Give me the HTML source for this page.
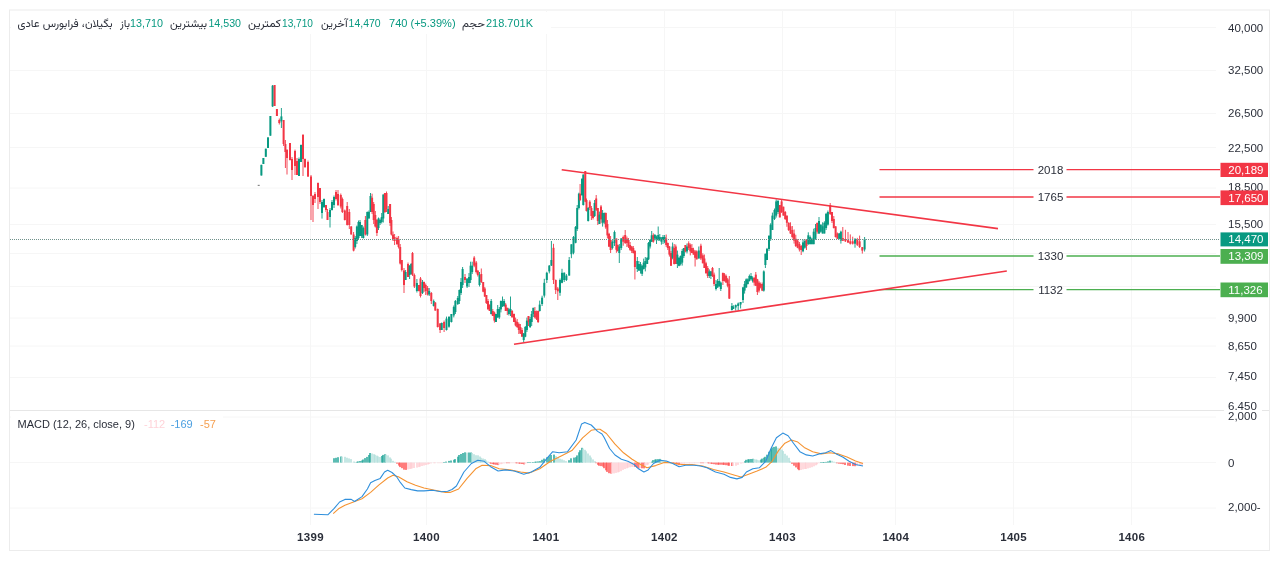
<!DOCTYPE html>
<html><head><meta charset="utf-8"><style>
html,body{margin:0;padding:0;background:#fff;width:1280px;height:561px;overflow:hidden}
svg{display:block;font-family:"Liberation Sans", "Vazirmatn", "DejaVu Sans", sans-serif}
</style></head><body>
<svg width="1280" height="561" viewBox="0 0 1280 561">
<rect x="0" y="0" width="1280" height="561" fill="#fff"/>
<rect x="9.5" y="10" width="1260" height="540.5" fill="none" stroke="#ececec"/>
<line x1="10" y1="27.5" x2="1216" y2="27.5" stroke="#f6f6f6" stroke-width="1" />
<line x1="10" y1="70.5" x2="1216" y2="70.5" stroke="#f6f6f6" stroke-width="1" />
<line x1="10" y1="113.5" x2="1216" y2="113.5" stroke="#f6f6f6" stroke-width="1" />
<line x1="10" y1="147.5" x2="1216" y2="147.5" stroke="#f6f6f6" stroke-width="1" />
<line x1="10" y1="188" x2="1216" y2="188" stroke="#f6f6f6" stroke-width="1" />
<line x1="10" y1="224.5" x2="1216" y2="224.5" stroke="#f6f6f6" stroke-width="1" />
<line x1="10" y1="253.5" x2="1216" y2="253.5" stroke="#f6f6f6" stroke-width="1" />
<line x1="10" y1="286.5" x2="1216" y2="286.5" stroke="#f6f6f6" stroke-width="1" />
<line x1="10" y1="318" x2="1216" y2="318" stroke="#f6f6f6" stroke-width="1" />
<line x1="10" y1="346" x2="1216" y2="346" stroke="#f6f6f6" stroke-width="1" />
<line x1="10" y1="377.5" x2="1216" y2="377.5" stroke="#f6f6f6" stroke-width="1" />
<line x1="10" y1="417" x2="1216" y2="417" stroke="#f6f6f6" stroke-width="1" />
<line x1="10" y1="462.6" x2="1216" y2="462.6" stroke="#f6f6f6" stroke-width="1" />
<line x1="10" y1="508" x2="1216" y2="508" stroke="#f6f6f6" stroke-width="1" />
<line x1="310.5" y1="10" x2="310.5" y2="525" stroke="#f6f6f6" stroke-width="1" />
<line x1="426.5" y1="10" x2="426.5" y2="525" stroke="#f6f6f6" stroke-width="1" />
<line x1="546.5" y1="10" x2="546.5" y2="525" stroke="#f6f6f6" stroke-width="1" />
<line x1="664.5" y1="10" x2="664.5" y2="525" stroke="#f6f6f6" stroke-width="1" />
<line x1="782.5" y1="10" x2="782.5" y2="525" stroke="#f6f6f6" stroke-width="1" />
<line x1="895.5" y1="10" x2="895.5" y2="525" stroke="#f6f6f6" stroke-width="1" />
<line x1="1013.5" y1="10" x2="1013.5" y2="525" stroke="#f6f6f6" stroke-width="1" />
<line x1="1131.5" y1="10" x2="1131.5" y2="525" stroke="#f6f6f6" stroke-width="1" />
<line x1="10" y1="410.5" x2="1269" y2="410.5" stroke="#e6e6e6" stroke-width="1" />
<rect x="257.7" y="184.8" width="2" height="1.2" fill="#888"/>
<line x1="261.40" y1="164.8" x2="261.40" y2="175.5" stroke="#089981" stroke-width="0.9"/>
<rect x="260.40" y="164.8" width="2.0" height="10.7" fill="#089981"/>
<line x1="263.40" y1="158.0" x2="263.40" y2="164.0" stroke="#089981" stroke-width="0.9"/>
<rect x="262.40" y="158.0" width="2.0" height="6.0" fill="#089981"/>
<line x1="265.80" y1="148.7" x2="265.80" y2="156.8" stroke="#089981" stroke-width="0.9"/>
<rect x="264.80" y="148.7" width="2.0" height="8.1" fill="#089981"/>
<line x1="268.00" y1="137.4" x2="268.00" y2="148.0" stroke="#089981" stroke-width="0.9"/>
<rect x="267.00" y="137.4" width="2.0" height="10.6" fill="#089981"/>
<line x1="270.40" y1="116.0" x2="270.40" y2="135.7" stroke="#089981" stroke-width="0.9"/>
<rect x="269.40" y="116.0" width="2.0" height="19.7" fill="#089981"/>
<line x1="272.60" y1="85.0" x2="272.60" y2="107.0" stroke="#089981" stroke-width="0.9"/>
<rect x="271.60" y="85.7" width="2.0" height="20.7" fill="#089981"/>
<line x1="274.60" y1="85.0" x2="274.60" y2="106.0" stroke="#f23645" stroke-width="0.9"/>
<rect x="273.60" y="85.0" width="2.0" height="21.0" fill="#f23645"/>
<line x1="276.90" y1="109.0" x2="276.90" y2="116.0" stroke="#f23645" stroke-width="0.9"/>
<rect x="275.90" y="109.0" width="2.0" height="7.0" fill="#f23645"/>
<line x1="279.30" y1="118.5" x2="279.30" y2="124.5" stroke="#f23645" stroke-width="0.9"/>
<rect x="278.30" y="120.0" width="2.0" height="3.0" fill="#f23645"/>
<line x1="281.40" y1="108.0" x2="281.40" y2="128.0" stroke="#089981" stroke-width="0.9"/>
<rect x="280.40" y="116.4" width="2.0" height="5.0" fill="#089981"/>
<line x1="283.60" y1="120.0" x2="283.60" y2="146.0" stroke="#f23645" stroke-width="0.9"/>
<rect x="282.60" y="120.0" width="2.0" height="24.0" fill="#f23645"/>
<line x1="285.40" y1="140.0" x2="285.40" y2="168.0" stroke="#f23645" stroke-width="0.9"/>
<rect x="284.40" y="144.0" width="2.0" height="8.0" fill="#f23645"/>
<line x1="287.00" y1="149.0" x2="287.00" y2="174.5" stroke="#f23645" stroke-width="0.9"/>
<rect x="286.00" y="150.0" width="2.0" height="8.0" fill="#f23645"/>
<line x1="290.00" y1="143.0" x2="290.00" y2="160.5" stroke="#f23645" stroke-width="0.9"/>
<rect x="289.00" y="143.0" width="2.0" height="17.0" fill="#f23645"/>
<line x1="292.00" y1="157.0" x2="292.00" y2="180.0" stroke="#f23645" stroke-width="0.9"/>
<rect x="291.00" y="159.0" width="2.0" height="11.0" fill="#f23645"/>
<line x1="295.00" y1="149.6" x2="295.00" y2="175.0" stroke="#f23645" stroke-width="0.9"/>
<rect x="294.00" y="151.0" width="2.0" height="15.0" fill="#f23645"/>
<line x1="297.00" y1="158.0" x2="297.00" y2="175.0" stroke="#f23645" stroke-width="0.9"/>
<rect x="296.00" y="161.0" width="2.0" height="14.0" fill="#f23645"/>
<line x1="299.00" y1="157.5" x2="299.00" y2="176.0" stroke="#089981" stroke-width="0.9"/>
<rect x="298.00" y="159.0" width="2.0" height="17.0" fill="#089981"/>
<line x1="301.00" y1="144.5" x2="301.00" y2="162.0" stroke="#089981" stroke-width="0.9"/>
<rect x="300.00" y="145.0" width="2.0" height="17.0" fill="#089981"/>
<line x1="303.00" y1="134.0" x2="303.00" y2="176.0" stroke="#f23645" stroke-width="0.9"/>
<rect x="302.00" y="135.0" width="2.0" height="24.0" fill="#f23645"/>
<line x1="305.00" y1="158.5" x2="305.00" y2="168.0" stroke="#f23645" stroke-width="0.9"/>
<rect x="304.00" y="159.0" width="2.0" height="8.0" fill="#f23645"/>
<line x1="308.00" y1="160.5" x2="308.00" y2="177.0" stroke="#f23645" stroke-width="0.9"/>
<rect x="307.00" y="162.0" width="2.0" height="14.5" fill="#f23645"/>
<line x1="311.00" y1="175.0" x2="311.00" y2="220.0" stroke="#f23645" stroke-width="0.9"/>
<rect x="310.00" y="176.5" width="2.0" height="19.5" fill="#f23645"/>
<line x1="313.00" y1="195.0" x2="313.00" y2="222.0" stroke="#f23645" stroke-width="0.9"/>
<rect x="312.00" y="196.0" width="2.0" height="9.0" fill="#f23645"/>
<line x1="315.00" y1="192.0" x2="315.00" y2="203.0" stroke="#f23645" stroke-width="0.9"/>
<rect x="314.00" y="194.0" width="2.0" height="5.0" fill="#f23645"/>
<line x1="318.00" y1="182.5" x2="318.00" y2="209.0" stroke="#f23645" stroke-width="0.9"/>
<rect x="317.00" y="183.0" width="2.0" height="14.0" fill="#f23645"/>
<line x1="320.00" y1="188.0" x2="320.00" y2="204.0" stroke="#f23645" stroke-width="0.9"/>
<rect x="319.00" y="188.0" width="2.0" height="14.0" fill="#f23645"/>
<line x1="322.00" y1="200.0" x2="322.00" y2="218.6" stroke="#089981" stroke-width="0.9"/>
<rect x="321.00" y="202.0" width="2.0" height="11.0" fill="#089981"/>
<line x1="324.00" y1="198.5" x2="324.00" y2="208.0" stroke="#089981" stroke-width="0.9"/>
<rect x="323.00" y="199.0" width="2.0" height="8.0" fill="#089981"/>
<line x1="326.00" y1="205.0" x2="326.00" y2="212.0" stroke="#f23645" stroke-width="0.9"/>
<rect x="325.00" y="205.0" width="2.0" height="5.0" fill="#f23645"/>
<line x1="327.50" y1="209.0" x2="327.50" y2="220.0" stroke="#f23645" stroke-width="0.9"/>
<rect x="326.50" y="212.0" width="2.0" height="8.0" fill="#f23645"/>
<line x1="330.00" y1="208.0" x2="330.00" y2="227.5" stroke="#089981" stroke-width="0.9"/>
<rect x="329.00" y="210.0" width="2.0" height="7.0" fill="#089981"/>
<line x1="332.00" y1="200.0" x2="332.00" y2="210.5" stroke="#089981" stroke-width="0.9"/>
<rect x="331.00" y="202.0" width="2.0" height="8.0" fill="#089981"/>
<line x1="334.00" y1="195.5" x2="334.00" y2="208.0" stroke="#089981" stroke-width="0.9"/>
<rect x="333.00" y="197.0" width="2.0" height="8.0" fill="#089981"/>
<line x1="336.00" y1="190.0" x2="336.00" y2="200.5" stroke="#f23645" stroke-width="0.9"/>
<rect x="335.00" y="192.0" width="2.0" height="7.0" fill="#f23645"/>
<line x1="338.00" y1="190.0" x2="338.00" y2="206.0" stroke="#f23645" stroke-width="0.9"/>
<rect x="337.00" y="194.0" width="2.0" height="11.0" fill="#f23645"/>
<line x1="340.80" y1="193.5" x2="340.80" y2="208.5" stroke="#f23645" stroke-width="0.9"/>
<rect x="339.80" y="195.0" width="2.0" height="11.5" fill="#f23645"/>
<line x1="342.40" y1="197.5" x2="342.40" y2="213.0" stroke="#f23645" stroke-width="0.9"/>
<rect x="341.40" y="199.0" width="2.0" height="13.0" fill="#f23645"/>
<line x1="344.80" y1="209.5" x2="344.80" y2="220.5" stroke="#f23645" stroke-width="0.9"/>
<rect x="343.80" y="210.5" width="2.0" height="9.5" fill="#f23645"/>
<line x1="347.20" y1="202.0" x2="347.20" y2="225.5" stroke="#f23645" stroke-width="0.9"/>
<rect x="346.20" y="206.0" width="2.0" height="19.0" fill="#f23645"/>
<line x1="349.30" y1="209.0" x2="349.30" y2="229.0" stroke="#f23645" stroke-width="0.9"/>
<rect x="348.30" y="212.0" width="2.0" height="13.0" fill="#f23645"/>
<line x1="351.20" y1="226.0" x2="351.20" y2="234.5" stroke="#f23645" stroke-width="0.9"/>
<rect x="350.20" y="226.5" width="2.0" height="8.0" fill="#f23645"/>
<line x1="353.60" y1="232.0" x2="353.60" y2="251.4" stroke="#f23645" stroke-width="0.9"/>
<rect x="352.60" y="234.5" width="2.0" height="16.1" fill="#f23645"/>
<line x1="355.20" y1="236.0" x2="355.20" y2="248.5" stroke="#089981" stroke-width="0.9"/>
<rect x="354.20" y="238.0" width="2.0" height="9.0" fill="#089981"/>
<line x1="356.90" y1="225.5" x2="356.90" y2="244.0" stroke="#089981" stroke-width="0.9"/>
<rect x="355.90" y="226.5" width="2.0" height="14.5" fill="#089981"/>
<line x1="358.50" y1="220.5" x2="358.50" y2="239.0" stroke="#089981" stroke-width="0.9"/>
<rect x="357.50" y="222.0" width="2.0" height="16.0" fill="#089981"/>
<line x1="360.00" y1="220.0" x2="360.00" y2="236.0" stroke="#089981" stroke-width="0.9"/>
<rect x="359.00" y="222.0" width="2.0" height="14.0" fill="#089981"/>
<line x1="361.70" y1="225.0" x2="361.70" y2="238.0" stroke="#089981" stroke-width="0.9"/>
<rect x="360.70" y="225.0" width="2.0" height="11.0" fill="#089981"/>
<line x1="363.30" y1="226.5" x2="363.30" y2="238.5" stroke="#089981" stroke-width="0.9"/>
<rect x="362.30" y="228.0" width="2.0" height="10.0" fill="#089981"/>
<line x1="365.40" y1="216.0" x2="365.40" y2="235.5" stroke="#f23645" stroke-width="0.9"/>
<rect x="364.40" y="220.0" width="2.0" height="14.5" fill="#f23645"/>
<line x1="367.30" y1="211.5" x2="367.30" y2="236.0" stroke="#089981" stroke-width="0.9"/>
<rect x="366.30" y="212.0" width="2.0" height="22.5" fill="#089981"/>
<line x1="368.90" y1="210.5" x2="368.90" y2="218.5" stroke="#089981" stroke-width="0.9"/>
<rect x="367.90" y="212.0" width="2.0" height="6.5" fill="#089981"/>
<line x1="370.50" y1="193.0" x2="370.50" y2="212.0" stroke="#089981" stroke-width="0.9"/>
<rect x="369.50" y="196.0" width="2.0" height="16.0" fill="#089981"/>
<line x1="372.10" y1="193.7" x2="372.10" y2="214.0" stroke="#f23645" stroke-width="0.9"/>
<rect x="371.10" y="197.7" width="2.0" height="14.3" fill="#f23645"/>
<line x1="373.70" y1="202.0" x2="373.70" y2="224.0" stroke="#f23645" stroke-width="0.9"/>
<rect x="372.70" y="204.0" width="2.0" height="16.0" fill="#f23645"/>
<line x1="375.30" y1="211.0" x2="375.30" y2="227.5" stroke="#f23645" stroke-width="0.9"/>
<rect x="374.30" y="215.0" width="2.0" height="11.5" fill="#f23645"/>
<line x1="376.90" y1="219.0" x2="376.90" y2="236.0" stroke="#f23645" stroke-width="0.9"/>
<rect x="375.90" y="220.0" width="2.0" height="13.0" fill="#f23645"/>
<line x1="378.50" y1="217.5" x2="378.50" y2="230.0" stroke="#089981" stroke-width="0.9"/>
<rect x="377.50" y="218.5" width="2.0" height="9.5" fill="#089981"/>
<line x1="380.10" y1="218.5" x2="380.10" y2="225.0" stroke="#089981" stroke-width="0.9"/>
<rect x="379.10" y="220.0" width="2.0" height="3.0" fill="#089981"/>
<line x1="381.70" y1="213.0" x2="381.70" y2="223.5" stroke="#089981" stroke-width="0.9"/>
<rect x="380.70" y="217.0" width="2.0" height="5.0" fill="#089981"/>
<line x1="383.30" y1="194.5" x2="383.30" y2="222.5" stroke="#089981" stroke-width="0.9"/>
<rect x="382.30" y="194.5" width="2.0" height="24.0" fill="#089981"/>
<line x1="384.90" y1="193.0" x2="384.90" y2="213.0" stroke="#f23645" stroke-width="0.9"/>
<rect x="383.90" y="193.0" width="2.0" height="19.0" fill="#f23645"/>
<line x1="386.50" y1="191.5" x2="386.50" y2="212.0" stroke="#f23645" stroke-width="0.9"/>
<rect x="385.50" y="193.0" width="2.0" height="16.0" fill="#f23645"/>
<line x1="388.20" y1="206.0" x2="388.20" y2="214.0" stroke="#089981" stroke-width="0.9"/>
<rect x="387.20" y="209.0" width="2.0" height="5.0" fill="#089981"/>
<line x1="390.10" y1="204.0" x2="390.10" y2="226.0" stroke="#f23645" stroke-width="0.9"/>
<rect x="389.10" y="204.0" width="2.0" height="19.0" fill="#f23645"/>
<line x1="391.40" y1="217.0" x2="391.40" y2="235.5" stroke="#f23645" stroke-width="0.9"/>
<rect x="390.40" y="220.0" width="2.0" height="14.5" fill="#f23645"/>
<line x1="393.00" y1="231.5" x2="393.00" y2="241.0" stroke="#f23645" stroke-width="0.9"/>
<rect x="392.00" y="234.5" width="2.0" height="4.5" fill="#f23645"/>
<line x1="394.60" y1="234.0" x2="394.60" y2="245.0" stroke="#f23645" stroke-width="0.9"/>
<rect x="393.60" y="237.0" width="2.0" height="4.0" fill="#f23645"/>
<line x1="397.00" y1="236.5" x2="397.00" y2="245.0" stroke="#f23645" stroke-width="0.9"/>
<rect x="396.00" y="238.0" width="2.0" height="6.0" fill="#f23645"/>
<line x1="398.60" y1="236.0" x2="398.60" y2="248.5" stroke="#f23645" stroke-width="0.9"/>
<rect x="397.60" y="239.0" width="2.0" height="8.0" fill="#f23645"/>
<line x1="400.20" y1="244.0" x2="400.20" y2="264.5" stroke="#f23645" stroke-width="0.9"/>
<rect x="399.20" y="247.0" width="2.0" height="16.5" fill="#f23645"/>
<line x1="401.80" y1="260.0" x2="401.80" y2="271.5" stroke="#f23645" stroke-width="0.9"/>
<rect x="400.80" y="260.0" width="2.0" height="10.0" fill="#f23645"/>
<line x1="404.00" y1="268.0" x2="404.00" y2="293.0" stroke="#f23645" stroke-width="0.9"/>
<rect x="403.00" y="270.5" width="2.0" height="14.5" fill="#f23645"/>
<line x1="405.60" y1="270.0" x2="405.60" y2="280.0" stroke="#089981" stroke-width="0.9"/>
<rect x="404.60" y="272.0" width="2.0" height="8.0" fill="#089981"/>
<line x1="408.00" y1="262.5" x2="408.00" y2="277.0" stroke="#f23645" stroke-width="0.9"/>
<rect x="407.00" y="264.0" width="2.0" height="13.0" fill="#f23645"/>
<line x1="409.60" y1="265.2" x2="409.60" y2="279.0" stroke="#089981" stroke-width="0.9"/>
<rect x="408.60" y="265.7" width="2.0" height="9.3" fill="#089981"/>
<line x1="411.20" y1="263.0" x2="411.20" y2="274.5" stroke="#089981" stroke-width="0.9"/>
<rect x="410.20" y="264.0" width="2.0" height="10.0" fill="#089981"/>
<line x1="412.50" y1="252.0" x2="412.50" y2="276.0" stroke="#f23645" stroke-width="0.9"/>
<rect x="411.50" y="253.0" width="2.0" height="22.0" fill="#f23645"/>
<line x1="414.40" y1="273.5" x2="414.40" y2="288.0" stroke="#f23645" stroke-width="0.9"/>
<rect x="413.40" y="275.0" width="2.0" height="11.5" fill="#f23645"/>
<line x1="416.90" y1="279.0" x2="416.90" y2="292.5" stroke="#089981" stroke-width="0.9"/>
<rect x="415.90" y="283.0" width="2.0" height="8.0" fill="#089981"/>
<line x1="419.00" y1="285.0" x2="419.00" y2="291.5" stroke="#f23645" stroke-width="0.9"/>
<rect x="418.00" y="285.0" width="2.0" height="6.0" fill="#f23645"/>
<line x1="420.50" y1="277.0" x2="420.50" y2="297.5" stroke="#f23645" stroke-width="0.9"/>
<rect x="419.50" y="278.5" width="2.0" height="17.5" fill="#f23645"/>
<line x1="422.50" y1="280.0" x2="422.50" y2="294.0" stroke="#089981" stroke-width="0.9"/>
<rect x="421.50" y="282.0" width="2.0" height="11.0" fill="#089981"/>
<line x1="424.00" y1="281.5" x2="424.00" y2="292.0" stroke="#f23645" stroke-width="0.9"/>
<rect x="423.00" y="282.0" width="2.0" height="6.0" fill="#f23645"/>
<line x1="425.70" y1="283.5" x2="425.70" y2="295.0" stroke="#f23645" stroke-width="0.9"/>
<rect x="424.70" y="285.0" width="2.0" height="6.0" fill="#f23645"/>
<line x1="427.60" y1="286.0" x2="427.60" y2="295.5" stroke="#f23645" stroke-width="0.9"/>
<rect x="426.60" y="288.0" width="2.0" height="6.5" fill="#f23645"/>
<line x1="429.20" y1="288.0" x2="429.20" y2="296.0" stroke="#089981" stroke-width="0.9"/>
<rect x="428.20" y="291.0" width="2.0" height="3.5" fill="#089981"/>
<line x1="431.30" y1="292.0" x2="431.30" y2="304.0" stroke="#f23645" stroke-width="0.9"/>
<rect x="430.30" y="293.0" width="2.0" height="8.0" fill="#f23645"/>
<line x1="433.70" y1="299.5" x2="433.70" y2="306.5" stroke="#089981" stroke-width="0.9"/>
<rect x="432.70" y="301.0" width="2.0" height="5.0" fill="#089981"/>
<line x1="435.30" y1="302.1" x2="435.30" y2="310.6" stroke="#f23645" stroke-width="0.9"/>
<rect x="434.30" y="302.6" width="2.0" height="8.0" fill="#f23645"/>
<line x1="437.70" y1="308.5" x2="437.70" y2="327.5" stroke="#f23645" stroke-width="0.9"/>
<rect x="436.70" y="309.0" width="2.0" height="18.0" fill="#f23645"/>
<line x1="440.10" y1="323.0" x2="440.10" y2="333.0" stroke="#f23645" stroke-width="0.9"/>
<rect x="439.10" y="323.5" width="2.0" height="6.5" fill="#f23645"/>
<line x1="441.70" y1="322.5" x2="441.70" y2="330.0" stroke="#089981" stroke-width="0.9"/>
<rect x="440.70" y="323.0" width="2.0" height="7.0" fill="#089981"/>
<line x1="444.10" y1="320.5" x2="444.10" y2="332.0" stroke="#f23645" stroke-width="0.9"/>
<rect x="443.10" y="322.0" width="2.0" height="6.0" fill="#f23645"/>
<line x1="446.50" y1="316.6" x2="446.50" y2="330.5" stroke="#089981" stroke-width="0.9"/>
<rect x="445.50" y="318.6" width="2.0" height="11.4" fill="#089981"/>
<line x1="449.00" y1="316.0" x2="449.00" y2="327.7" stroke="#089981" stroke-width="0.9"/>
<rect x="448.00" y="317.0" width="2.0" height="9.7" fill="#089981"/>
<line x1="451.40" y1="314.0" x2="451.40" y2="322.5" stroke="#089981" stroke-width="0.9"/>
<rect x="450.40" y="314.0" width="2.0" height="8.0" fill="#089981"/>
<line x1="453.80" y1="305.5" x2="453.80" y2="317.4" stroke="#089981" stroke-width="0.9"/>
<rect x="452.80" y="307.0" width="2.0" height="8.4" fill="#089981"/>
<line x1="455.40" y1="300.0" x2="455.40" y2="314.0" stroke="#089981" stroke-width="0.9"/>
<rect x="454.40" y="301.0" width="2.0" height="11.0" fill="#089981"/>
<line x1="457.80" y1="296.0" x2="457.80" y2="305.0" stroke="#089981" stroke-width="0.9"/>
<rect x="456.80" y="298.0" width="2.0" height="6.0" fill="#089981"/>
<line x1="459.40" y1="289.5" x2="459.40" y2="304.0" stroke="#089981" stroke-width="0.9"/>
<rect x="458.40" y="290.0" width="2.0" height="11.0" fill="#089981"/>
<line x1="461.00" y1="278.0" x2="461.00" y2="295.0" stroke="#089981" stroke-width="0.9"/>
<rect x="460.00" y="282.0" width="2.0" height="11.0" fill="#089981"/>
<line x1="462.60" y1="267.0" x2="462.60" y2="288.0" stroke="#089981" stroke-width="0.9"/>
<rect x="461.60" y="269.0" width="2.0" height="16.0" fill="#089981"/>
<line x1="465.00" y1="274.0" x2="465.00" y2="283.0" stroke="#f23645" stroke-width="0.9"/>
<rect x="464.00" y="277.0" width="2.0" height="3.0" fill="#f23645"/>
<line x1="467.10" y1="278.5" x2="467.10" y2="288.0" stroke="#089981" stroke-width="0.9"/>
<rect x="466.10" y="278.5" width="2.0" height="8.0" fill="#089981"/>
<line x1="469.00" y1="273.0" x2="469.00" y2="287.0" stroke="#089981" stroke-width="0.9"/>
<rect x="468.00" y="277.0" width="2.0" height="6.0" fill="#089981"/>
<line x1="470.60" y1="261.7" x2="470.60" y2="283.0" stroke="#089981" stroke-width="0.9"/>
<rect x="469.60" y="265.7" width="2.0" height="14.3" fill="#089981"/>
<line x1="472.20" y1="261.7" x2="472.20" y2="274.0" stroke="#089981" stroke-width="0.9"/>
<rect x="471.20" y="265.7" width="2.0" height="6.3" fill="#089981"/>
<line x1="474.20" y1="256.1" x2="474.20" y2="267.2" stroke="#f23645" stroke-width="0.9"/>
<rect x="473.20" y="257.6" width="2.0" height="8.1" fill="#f23645"/>
<line x1="476.20" y1="261.0" x2="476.20" y2="273.5" stroke="#f23645" stroke-width="0.9"/>
<rect x="475.20" y="262.5" width="2.0" height="9.5" fill="#f23645"/>
<line x1="477.80" y1="270.5" x2="477.80" y2="276.5" stroke="#f23645" stroke-width="0.9"/>
<rect x="476.80" y="270.5" width="2.0" height="4.5" fill="#f23645"/>
<line x1="479.50" y1="272.0" x2="479.50" y2="286.5" stroke="#089981" stroke-width="0.9"/>
<rect x="478.50" y="275.0" width="2.0" height="10.0" fill="#089981"/>
<line x1="481.30" y1="268.5" x2="481.30" y2="283.0" stroke="#f23645" stroke-width="0.9"/>
<rect x="480.30" y="274.0" width="2.0" height="8.0" fill="#f23645"/>
<line x1="483.20" y1="282.0" x2="483.20" y2="292.2" stroke="#f23645" stroke-width="0.9"/>
<rect x="482.20" y="282.0" width="2.0" height="9.7" fill="#f23645"/>
<line x1="484.80" y1="287.0" x2="484.80" y2="297.0" stroke="#f23645" stroke-width="0.9"/>
<rect x="483.80" y="288.5" width="2.0" height="8.0" fill="#f23645"/>
<line x1="486.40" y1="295.0" x2="486.40" y2="304.0" stroke="#f23645" stroke-width="0.9"/>
<rect x="485.40" y="295.0" width="2.0" height="8.0" fill="#f23645"/>
<line x1="488.00" y1="299.0" x2="488.00" y2="309.4" stroke="#f23645" stroke-width="0.9"/>
<rect x="487.00" y="301.0" width="2.0" height="8.4" fill="#f23645"/>
<line x1="489.60" y1="304.6" x2="489.60" y2="311.0" stroke="#f23645" stroke-width="0.9"/>
<rect x="488.60" y="304.6" width="2.0" height="6.4" fill="#f23645"/>
<line x1="491.20" y1="299.0" x2="491.20" y2="314.5" stroke="#089981" stroke-width="0.9"/>
<rect x="490.20" y="301.0" width="2.0" height="13.0" fill="#089981"/>
<line x1="492.80" y1="309.0" x2="492.80" y2="316.0" stroke="#f23645" stroke-width="0.9"/>
<rect x="491.80" y="311.0" width="2.0" height="5.0" fill="#f23645"/>
<line x1="494.40" y1="311.6" x2="494.40" y2="322.6" stroke="#f23645" stroke-width="0.9"/>
<rect x="493.40" y="312.6" width="2.0" height="8.0" fill="#f23645"/>
<line x1="496.00" y1="314.0" x2="496.00" y2="322.0" stroke="#089981" stroke-width="0.9"/>
<rect x="495.00" y="314.0" width="2.0" height="8.0" fill="#089981"/>
<line x1="497.70" y1="305.0" x2="497.70" y2="317.9" stroke="#089981" stroke-width="0.9"/>
<rect x="496.70" y="309.0" width="2.0" height="8.4" fill="#089981"/>
<line x1="499.30" y1="307.0" x2="499.30" y2="318.9" stroke="#089981" stroke-width="0.9"/>
<rect x="498.30" y="309.0" width="2.0" height="8.4" fill="#089981"/>
<line x1="500.90" y1="300.5" x2="500.90" y2="312.4" stroke="#089981" stroke-width="0.9"/>
<rect x="499.90" y="301.0" width="2.0" height="8.4" fill="#089981"/>
<line x1="502.50" y1="296.5" x2="502.50" y2="307.0" stroke="#089981" stroke-width="0.9"/>
<rect x="501.50" y="301.0" width="2.0" height="5.0" fill="#089981"/>
<line x1="504.10" y1="299.0" x2="504.10" y2="307.0" stroke="#089981" stroke-width="0.9"/>
<rect x="503.10" y="301.0" width="2.0" height="5.0" fill="#089981"/>
<line x1="505.70" y1="303.1" x2="505.70" y2="311.0" stroke="#f23645" stroke-width="0.9"/>
<rect x="504.70" y="304.6" width="2.0" height="6.4" fill="#f23645"/>
<line x1="507.30" y1="307.8" x2="507.30" y2="315.0" stroke="#f23645" stroke-width="0.9"/>
<rect x="506.30" y="307.8" width="2.0" height="3.2" fill="#f23645"/>
<line x1="508.90" y1="307.9" x2="508.90" y2="315.5" stroke="#089981" stroke-width="0.9"/>
<rect x="507.90" y="309.4" width="2.0" height="4.6" fill="#089981"/>
<line x1="510.50" y1="296.5" x2="510.50" y2="316.0" stroke="#089981" stroke-width="0.9"/>
<rect x="509.50" y="309.0" width="2.0" height="3.0" fill="#089981"/>
<line x1="512.10" y1="310.0" x2="512.10" y2="317.4" stroke="#f23645" stroke-width="0.9"/>
<rect x="511.10" y="311.0" width="2.0" height="6.4" fill="#f23645"/>
<line x1="514.00" y1="313.5" x2="514.00" y2="322.0" stroke="#f23645" stroke-width="0.9"/>
<rect x="513.00" y="314.0" width="2.0" height="8.0" fill="#f23645"/>
<line x1="515.60" y1="317.6" x2="515.60" y2="326.4" stroke="#f23645" stroke-width="0.9"/>
<rect x="514.60" y="320.6" width="2.0" height="4.8" fill="#f23645"/>
<line x1="517.20" y1="319.0" x2="517.20" y2="328.0" stroke="#f23645" stroke-width="0.9"/>
<rect x="516.20" y="322.0" width="2.0" height="5.0" fill="#f23645"/>
<line x1="518.80" y1="322.5" x2="518.80" y2="334.0" stroke="#f23645" stroke-width="0.9"/>
<rect x="517.80" y="324.0" width="2.0" height="6.0" fill="#f23645"/>
<line x1="520.40" y1="324.0" x2="520.40" y2="334.0" stroke="#f23645" stroke-width="0.9"/>
<rect x="519.40" y="327.0" width="2.0" height="6.5" fill="#f23645"/>
<line x1="522.00" y1="328.0" x2="522.00" y2="336.7" stroke="#f23645" stroke-width="0.9"/>
<rect x="521.00" y="330.0" width="2.0" height="6.7" fill="#f23645"/>
<line x1="523.70" y1="333.0" x2="523.70" y2="342.0" stroke="#089981" stroke-width="0.9"/>
<rect x="522.70" y="333.5" width="2.0" height="6.5" fill="#089981"/>
<line x1="525.30" y1="326.0" x2="525.30" y2="337.2" stroke="#089981" stroke-width="0.9"/>
<rect x="524.30" y="327.0" width="2.0" height="9.7" fill="#089981"/>
<line x1="526.90" y1="317.6" x2="526.90" y2="332.0" stroke="#089981" stroke-width="0.9"/>
<rect x="525.90" y="320.6" width="2.0" height="9.4" fill="#089981"/>
<line x1="528.50" y1="316.0" x2="528.50" y2="326.0" stroke="#f23645" stroke-width="0.9"/>
<rect x="527.50" y="316.0" width="2.0" height="6.0" fill="#f23645"/>
<line x1="530.10" y1="317.0" x2="530.10" y2="328.0" stroke="#089981" stroke-width="0.9"/>
<rect x="529.10" y="319.0" width="2.0" height="8.0" fill="#089981"/>
<line x1="531.70" y1="311.0" x2="531.70" y2="326.0" stroke="#089981" stroke-width="0.9"/>
<rect x="530.70" y="314.0" width="2.0" height="8.0" fill="#089981"/>
<line x1="533.30" y1="307.8" x2="533.30" y2="317.0" stroke="#089981" stroke-width="0.9"/>
<rect x="532.30" y="307.8" width="2.0" height="6.2" fill="#089981"/>
<line x1="534.90" y1="307.0" x2="534.90" y2="318.4" stroke="#f23645" stroke-width="0.9"/>
<rect x="533.90" y="311.0" width="2.0" height="6.4" fill="#f23645"/>
<line x1="536.50" y1="310.6" x2="536.50" y2="320.0" stroke="#f23645" stroke-width="0.9"/>
<rect x="535.50" y="312.6" width="2.0" height="6.4" fill="#f23645"/>
<line x1="538.10" y1="310.5" x2="538.10" y2="323.0" stroke="#f23645" stroke-width="0.9"/>
<rect x="537.10" y="311.0" width="2.0" height="11.0" fill="#f23645"/>
<line x1="539.70" y1="300.6" x2="539.70" y2="311.5" stroke="#089981" stroke-width="0.9"/>
<rect x="538.70" y="304.6" width="2.0" height="6.4" fill="#089981"/>
<line x1="542.10" y1="295.7" x2="542.10" y2="306.0" stroke="#089981" stroke-width="0.9"/>
<rect x="541.10" y="297.7" width="2.0" height="6.3" fill="#089981"/>
<line x1="544.30" y1="278.8" x2="544.30" y2="297.6" stroke="#089981" stroke-width="0.9"/>
<rect x="543.30" y="282.8" width="2.0" height="12.8" fill="#089981"/>
<line x1="546.80" y1="271.8" x2="546.80" y2="283.0" stroke="#089981" stroke-width="0.9"/>
<rect x="545.80" y="272.8" width="2.0" height="7.2" fill="#089981"/>
<line x1="549.30" y1="265.1" x2="549.30" y2="273.4" stroke="#089981" stroke-width="0.9"/>
<rect x="548.30" y="265.6" width="2.0" height="5.8" fill="#089981"/>
<line x1="551.40" y1="241.0" x2="551.40" y2="266.0" stroke="#089981" stroke-width="0.9"/>
<rect x="550.40" y="260.0" width="2.0" height="5.6" fill="#089981"/>
<line x1="553.50" y1="243.8" x2="553.50" y2="284.0" stroke="#f23645" stroke-width="0.9"/>
<rect x="552.50" y="247.8" width="2.0" height="32.2" fill="#f23645"/>
<line x1="555.70" y1="279.5" x2="555.70" y2="294.0" stroke="#f23645" stroke-width="0.9"/>
<rect x="554.70" y="280.0" width="2.0" height="10.0" fill="#f23645"/>
<line x1="557.80" y1="287.0" x2="557.80" y2="300.0" stroke="#f23645" stroke-width="0.9"/>
<rect x="556.80" y="288.5" width="2.0" height="2.8" fill="#f23645"/>
<line x1="560.00" y1="278.5" x2="560.00" y2="295.8" stroke="#089981" stroke-width="0.9"/>
<rect x="559.00" y="280.0" width="2.0" height="12.8" fill="#089981"/>
<line x1="562.00" y1="268.8" x2="562.00" y2="283.3" stroke="#089981" stroke-width="0.9"/>
<rect x="561.00" y="272.8" width="2.0" height="10.0" fill="#089981"/>
<line x1="564.20" y1="272.3" x2="564.20" y2="282.0" stroke="#089981" stroke-width="0.9"/>
<rect x="563.20" y="272.8" width="2.0" height="7.2" fill="#089981"/>
<line x1="566.40" y1="274.1" x2="566.40" y2="281.0" stroke="#089981" stroke-width="0.9"/>
<rect x="565.40" y="275.6" width="2.0" height="4.4" fill="#089981"/>
<line x1="569.20" y1="257.0" x2="569.20" y2="275.6" stroke="#089981" stroke-width="0.9"/>
<rect x="568.20" y="260.0" width="2.0" height="15.6" fill="#089981"/>
<line x1="571.40" y1="244.3" x2="571.40" y2="258.2" stroke="#089981" stroke-width="0.9"/>
<rect x="570.40" y="244.3" width="2.0" height="9.9" fill="#089981"/>
<line x1="573.50" y1="236.0" x2="573.50" y2="254.3" stroke="#089981" stroke-width="0.9"/>
<rect x="572.50" y="237.0" width="2.0" height="15.8" fill="#089981"/>
<line x1="575.60" y1="226.0" x2="575.60" y2="243.3" stroke="#089981" stroke-width="0.9"/>
<rect x="574.60" y="227.0" width="2.0" height="15.8" fill="#089981"/>
<line x1="577.20" y1="205.0" x2="577.20" y2="231.0" stroke="#089981" stroke-width="0.9"/>
<rect x="576.20" y="208.0" width="2.0" height="21.0" fill="#089981"/>
<line x1="578.90" y1="192.7" x2="578.90" y2="209.5" stroke="#089981" stroke-width="0.9"/>
<rect x="577.90" y="193.7" width="2.0" height="14.3" fill="#089981"/>
<line x1="580.10" y1="184.0" x2="580.10" y2="201.0" stroke="#f23645" stroke-width="0.9"/>
<rect x="579.10" y="193.7" width="2.0" height="6.3" fill="#f23645"/>
<line x1="582.00" y1="178.0" x2="582.00" y2="196.0" stroke="#089981" stroke-width="0.9"/>
<rect x="581.00" y="179.0" width="2.0" height="16.0" fill="#089981"/>
<line x1="583.30" y1="174.5" x2="583.30" y2="205.5" stroke="#089981" stroke-width="0.9"/>
<rect x="582.30" y="174.5" width="2.0" height="30.5" fill="#089981"/>
<line x1="585.30" y1="171.0" x2="585.30" y2="202.2" stroke="#f23645" stroke-width="0.9"/>
<rect x="584.30" y="171.0" width="2.0" height="30.7" fill="#f23645"/>
<line x1="586.50" y1="198.5" x2="586.50" y2="211.5" stroke="#f23645" stroke-width="0.9"/>
<rect x="585.50" y="200.0" width="2.0" height="11.0" fill="#f23645"/>
<line x1="588.20" y1="207.0" x2="588.20" y2="221.5" stroke="#089981" stroke-width="0.9"/>
<rect x="587.20" y="208.0" width="2.0" height="13.0" fill="#089981"/>
<line x1="589.80" y1="200.2" x2="589.80" y2="210.0" stroke="#f23645" stroke-width="0.9"/>
<rect x="588.80" y="201.7" width="2.0" height="6.3" fill="#f23645"/>
<line x1="591.40" y1="206.0" x2="591.40" y2="220.0" stroke="#f23645" stroke-width="0.9"/>
<rect x="590.40" y="208.0" width="2.0" height="8.0" fill="#f23645"/>
<line x1="593.00" y1="211.0" x2="593.00" y2="219.5" stroke="#f23645" stroke-width="0.9"/>
<rect x="592.00" y="211.0" width="2.0" height="7.0" fill="#f23645"/>
<line x1="594.60" y1="200.0" x2="594.60" y2="217.0" stroke="#089981" stroke-width="0.9"/>
<rect x="593.60" y="203.0" width="2.0" height="13.0" fill="#089981"/>
<line x1="596.20" y1="195.0" x2="596.20" y2="211.0" stroke="#f23645" stroke-width="0.9"/>
<rect x="595.20" y="198.5" width="2.0" height="11.3" fill="#f23645"/>
<line x1="597.80" y1="208.0" x2="597.80" y2="225.0" stroke="#f23645" stroke-width="0.9"/>
<rect x="596.80" y="208.0" width="2.0" height="13.0" fill="#f23645"/>
<line x1="599.40" y1="211.6" x2="599.40" y2="224.0" stroke="#089981" stroke-width="0.9"/>
<rect x="598.40" y="214.6" width="2.0" height="9.4" fill="#089981"/>
<line x1="601.00" y1="205.0" x2="601.00" y2="223.4" stroke="#f23645" stroke-width="0.9"/>
<rect x="600.00" y="206.5" width="2.0" height="12.9" fill="#f23645"/>
<line x1="602.60" y1="210.0" x2="602.60" y2="226.6" stroke="#089981" stroke-width="0.9"/>
<rect x="601.60" y="213.0" width="2.0" height="9.6" fill="#089981"/>
<line x1="604.20" y1="212.5" x2="604.20" y2="224.1" stroke="#089981" stroke-width="0.9"/>
<rect x="603.20" y="213.0" width="2.0" height="9.6" fill="#089981"/>
<line x1="605.80" y1="212.5" x2="605.80" y2="228.9" stroke="#f23645" stroke-width="0.9"/>
<rect x="604.80" y="213.0" width="2.0" height="14.4" fill="#f23645"/>
<line x1="607.40" y1="220.0" x2="607.40" y2="238.4" stroke="#f23645" stroke-width="0.9"/>
<rect x="606.40" y="224.0" width="2.0" height="11.4" fill="#f23645"/>
<line x1="609.00" y1="232.8" x2="609.00" y2="246.7" stroke="#f23645" stroke-width="0.9"/>
<rect x="608.00" y="233.8" width="2.0" height="12.9" fill="#f23645"/>
<line x1="610.60" y1="236.0" x2="610.60" y2="253.0" stroke="#f23645" stroke-width="0.9"/>
<rect x="609.60" y="240.0" width="2.0" height="10.0" fill="#f23645"/>
<line x1="612.40" y1="240.2" x2="612.40" y2="249.5" stroke="#089981" stroke-width="0.9"/>
<rect x="611.40" y="241.7" width="2.0" height="6.3" fill="#089981"/>
<line x1="614.50" y1="230.5" x2="614.50" y2="246.0" stroke="#089981" stroke-width="0.9"/>
<rect x="613.50" y="232.0" width="2.0" height="11.0" fill="#089981"/>
<line x1="616.40" y1="238.5" x2="616.40" y2="252.8" stroke="#f23645" stroke-width="0.9"/>
<rect x="615.40" y="238.5" width="2.0" height="11.3" fill="#f23645"/>
<line x1="617.70" y1="244.5" x2="617.70" y2="251.5" stroke="#f23645" stroke-width="0.9"/>
<rect x="616.70" y="245.0" width="2.0" height="6.0" fill="#f23645"/>
<line x1="619.30" y1="244.0" x2="619.30" y2="263.0" stroke="#089981" stroke-width="0.9"/>
<rect x="618.30" y="246.5" width="2.0" height="6.5" fill="#089981"/>
<line x1="621.20" y1="238.0" x2="621.20" y2="250.0" stroke="#089981" stroke-width="0.9"/>
<rect x="620.20" y="238.5" width="2.0" height="9.5" fill="#089981"/>
<line x1="623.20" y1="235.5" x2="623.20" y2="245.7" stroke="#f23645" stroke-width="0.9"/>
<rect x="622.20" y="237.0" width="2.0" height="4.7" fill="#f23645"/>
<line x1="625.20" y1="230.0" x2="625.20" y2="244.0" stroke="#f23645" stroke-width="0.9"/>
<rect x="624.20" y="235.0" width="2.0" height="8.0" fill="#f23645"/>
<line x1="626.90" y1="236.5" x2="626.90" y2="247.0" stroke="#f23645" stroke-width="0.9"/>
<rect x="625.90" y="238.5" width="2.0" height="4.5" fill="#f23645"/>
<line x1="628.50" y1="238.0" x2="628.50" y2="248.0" stroke="#f23645" stroke-width="0.9"/>
<rect x="627.50" y="240.0" width="2.0" height="6.5" fill="#f23645"/>
<line x1="630.10" y1="242.0" x2="630.10" y2="250.8" stroke="#f23645" stroke-width="0.9"/>
<rect x="629.10" y="245.0" width="2.0" height="4.8" fill="#f23645"/>
<line x1="631.70" y1="246.0" x2="631.70" y2="253.0" stroke="#f23645" stroke-width="0.9"/>
<rect x="630.70" y="246.5" width="2.0" height="4.5" fill="#f23645"/>
<line x1="633.30" y1="246.0" x2="633.30" y2="253.5" stroke="#f23645" stroke-width="0.9"/>
<rect x="632.30" y="248.0" width="2.0" height="5.0" fill="#f23645"/>
<line x1="634.90" y1="250.0" x2="634.90" y2="279.5" stroke="#f23645" stroke-width="0.9"/>
<rect x="633.90" y="251.0" width="2.0" height="16.0" fill="#f23645"/>
<line x1="637.30" y1="257.0" x2="637.30" y2="272.0" stroke="#089981" stroke-width="0.9"/>
<rect x="636.30" y="261.0" width="2.0" height="8.0" fill="#089981"/>
<line x1="638.90" y1="261.0" x2="638.90" y2="270.6" stroke="#089981" stroke-width="0.9"/>
<rect x="637.90" y="264.0" width="2.0" height="6.6" fill="#089981"/>
<line x1="640.50" y1="262.0" x2="640.50" y2="273.6" stroke="#089981" stroke-width="0.9"/>
<rect x="639.50" y="264.0" width="2.0" height="6.6" fill="#089981"/>
<line x1="642.10" y1="265.0" x2="642.10" y2="276.0" stroke="#089981" stroke-width="0.9"/>
<rect x="641.10" y="265.8" width="2.0" height="8.0" fill="#089981"/>
<line x1="643.70" y1="258.6" x2="643.70" y2="269.5" stroke="#089981" stroke-width="0.9"/>
<rect x="642.70" y="262.6" width="2.0" height="6.4" fill="#089981"/>
<line x1="645.30" y1="257.0" x2="645.30" y2="271.4" stroke="#089981" stroke-width="0.9"/>
<rect x="644.30" y="261.0" width="2.0" height="6.4" fill="#089981"/>
<line x1="647.20" y1="257.3" x2="647.20" y2="264.0" stroke="#089981" stroke-width="0.9"/>
<rect x="646.20" y="257.8" width="2.0" height="6.2" fill="#089981"/>
<line x1="648.50" y1="242.0" x2="648.50" y2="259.9" stroke="#089981" stroke-width="0.9"/>
<rect x="647.50" y="243.0" width="2.0" height="16.4" fill="#089981"/>
<line x1="650.10" y1="239.0" x2="650.10" y2="248.5" stroke="#089981" stroke-width="0.9"/>
<rect x="649.10" y="240.0" width="2.0" height="6.5" fill="#089981"/>
<line x1="651.70" y1="231.0" x2="651.70" y2="242.0" stroke="#089981" stroke-width="0.9"/>
<rect x="650.70" y="235.3" width="2.0" height="6.4" fill="#089981"/>
<line x1="653.30" y1="233.3" x2="653.30" y2="242.7" stroke="#f23645" stroke-width="0.9"/>
<rect x="652.30" y="235.3" width="2.0" height="6.4" fill="#f23645"/>
<line x1="654.90" y1="234.0" x2="654.90" y2="240.5" stroke="#089981" stroke-width="0.9"/>
<rect x="653.90" y="235.0" width="2.0" height="3.5" fill="#089981"/>
<line x1="656.50" y1="235.5" x2="656.50" y2="244.0" stroke="#089981" stroke-width="0.9"/>
<rect x="655.50" y="237.0" width="2.0" height="3.0" fill="#089981"/>
<line x1="658.20" y1="226.5" x2="658.20" y2="241.0" stroke="#089981" stroke-width="0.9"/>
<rect x="657.20" y="235.0" width="2.0" height="5.0" fill="#089981"/>
<line x1="659.80" y1="234.0" x2="659.80" y2="241.0" stroke="#089981" stroke-width="0.9"/>
<rect x="658.80" y="237.0" width="2.0" height="3.0" fill="#089981"/>
<line x1="661.40" y1="237.0" x2="661.40" y2="244.7" stroke="#089981" stroke-width="0.9"/>
<rect x="660.40" y="238.5" width="2.0" height="3.2" fill="#089981"/>
<line x1="663.00" y1="235.0" x2="663.00" y2="244.0" stroke="#089981" stroke-width="0.9"/>
<rect x="662.00" y="237.0" width="2.0" height="3.0" fill="#089981"/>
<line x1="664.60" y1="235.0" x2="664.60" y2="243.2" stroke="#089981" stroke-width="0.9"/>
<rect x="663.60" y="237.0" width="2.0" height="4.7" fill="#089981"/>
<line x1="666.20" y1="234.5" x2="666.20" y2="247.0" stroke="#f23645" stroke-width="0.9"/>
<rect x="665.20" y="238.5" width="2.0" height="6.5" fill="#f23645"/>
<line x1="667.80" y1="242.5" x2="667.80" y2="250.0" stroke="#f23645" stroke-width="0.9"/>
<rect x="666.80" y="243.0" width="2.0" height="5.0" fill="#f23645"/>
<line x1="669.40" y1="246.0" x2="669.40" y2="256.6" stroke="#f23645" stroke-width="0.9"/>
<rect x="668.40" y="246.5" width="2.0" height="8.1" fill="#f23645"/>
<line x1="671.00" y1="251.0" x2="671.00" y2="265.8" stroke="#f23645" stroke-width="0.9"/>
<rect x="670.00" y="253.0" width="2.0" height="12.8" fill="#f23645"/>
<line x1="672.60" y1="242.5" x2="672.60" y2="259.3" stroke="#089981" stroke-width="0.9"/>
<rect x="671.60" y="246.5" width="2.0" height="11.3" fill="#089981"/>
<line x1="674.20" y1="244.0" x2="674.20" y2="264.5" stroke="#f23645" stroke-width="0.9"/>
<rect x="673.20" y="248.0" width="2.0" height="16.0" fill="#f23645"/>
<line x1="675.80" y1="244.5" x2="675.80" y2="264.0" stroke="#f23645" stroke-width="0.9"/>
<rect x="674.80" y="246.5" width="2.0" height="17.5" fill="#f23645"/>
<line x1="677.40" y1="250.6" x2="677.40" y2="268.0" stroke="#089981" stroke-width="0.9"/>
<rect x="676.40" y="254.6" width="2.0" height="9.4" fill="#089981"/>
<line x1="679.00" y1="257.3" x2="679.00" y2="266.3" stroke="#089981" stroke-width="0.9"/>
<rect x="678.00" y="257.8" width="2.0" height="8.0" fill="#089981"/>
<line x1="680.60" y1="255.5" x2="680.60" y2="265.5" stroke="#089981" stroke-width="0.9"/>
<rect x="679.60" y="256.0" width="2.0" height="8.0" fill="#089981"/>
<line x1="682.20" y1="249.0" x2="682.20" y2="265.6" stroke="#089981" stroke-width="0.9"/>
<rect x="681.20" y="251.0" width="2.0" height="11.6" fill="#089981"/>
<line x1="683.80" y1="248.0" x2="683.80" y2="258.0" stroke="#089981" stroke-width="0.9"/>
<rect x="682.80" y="248.0" width="2.0" height="8.0" fill="#089981"/>
<line x1="685.40" y1="245.0" x2="685.40" y2="252.4" stroke="#f23645" stroke-width="0.9"/>
<rect x="684.40" y="245.0" width="2.0" height="6.4" fill="#f23645"/>
<line x1="687.00" y1="243.5" x2="687.00" y2="253.4" stroke="#089981" stroke-width="0.9"/>
<rect x="686.00" y="246.5" width="2.0" height="4.9" fill="#089981"/>
<line x1="688.70" y1="241.3" x2="688.70" y2="250.0" stroke="#f23645" stroke-width="0.9"/>
<rect x="687.70" y="243.3" width="2.0" height="4.7" fill="#f23645"/>
<line x1="690.30" y1="243.5" x2="690.30" y2="255.4" stroke="#f23645" stroke-width="0.9"/>
<rect x="689.30" y="245.0" width="2.0" height="6.4" fill="#f23645"/>
<line x1="691.90" y1="244.0" x2="691.90" y2="253.0" stroke="#f23645" stroke-width="0.9"/>
<rect x="690.90" y="248.0" width="2.0" height="5.0" fill="#f23645"/>
<line x1="693.50" y1="247.8" x2="693.50" y2="254.6" stroke="#f23645" stroke-width="0.9"/>
<rect x="692.50" y="249.8" width="2.0" height="4.8" fill="#f23645"/>
<line x1="695.10" y1="250.0" x2="695.10" y2="266.5" stroke="#f23645" stroke-width="0.9"/>
<rect x="694.10" y="251.4" width="2.0" height="6.4" fill="#f23645"/>
<line x1="696.70" y1="250.4" x2="696.70" y2="259.4" stroke="#f23645" stroke-width="0.9"/>
<rect x="695.70" y="251.4" width="2.0" height="8.0" fill="#f23645"/>
<line x1="698.80" y1="246.5" x2="698.80" y2="258.5" stroke="#089981" stroke-width="0.9"/>
<rect x="697.80" y="250.5" width="2.0" height="8.0" fill="#089981"/>
<line x1="700.90" y1="243.7" x2="700.90" y2="260.0" stroke="#f23645" stroke-width="0.9"/>
<rect x="699.90" y="245.7" width="2.0" height="12.8" fill="#f23645"/>
<line x1="702.80" y1="253.3" x2="702.80" y2="263.3" stroke="#f23645" stroke-width="0.9"/>
<rect x="701.80" y="255.3" width="2.0" height="8.0" fill="#f23645"/>
<line x1="704.40" y1="254.5" x2="704.40" y2="268.0" stroke="#f23645" stroke-width="0.9"/>
<rect x="703.40" y="258.5" width="2.0" height="9.5" fill="#f23645"/>
<line x1="706.00" y1="261.8" x2="706.00" y2="274.0" stroke="#f23645" stroke-width="0.9"/>
<rect x="705.00" y="263.3" width="2.0" height="9.7" fill="#f23645"/>
<line x1="707.70" y1="266.0" x2="707.70" y2="278.0" stroke="#f23645" stroke-width="0.9"/>
<rect x="706.70" y="268.0" width="2.0" height="8.0" fill="#f23645"/>
<line x1="709.30" y1="269.4" x2="709.30" y2="278.0" stroke="#089981" stroke-width="0.9"/>
<rect x="708.30" y="271.4" width="2.0" height="4.6" fill="#089981"/>
<line x1="710.90" y1="270.9" x2="710.90" y2="279.0" stroke="#089981" stroke-width="0.9"/>
<rect x="709.90" y="271.4" width="2.0" height="4.6" fill="#089981"/>
<line x1="712.50" y1="267.0" x2="712.50" y2="277.0" stroke="#f23645" stroke-width="0.9"/>
<rect x="711.50" y="268.0" width="2.0" height="8.0" fill="#f23645"/>
<line x1="714.10" y1="272.6" x2="714.10" y2="286.0" stroke="#f23645" stroke-width="0.9"/>
<rect x="713.10" y="274.6" width="2.0" height="9.4" fill="#f23645"/>
<line x1="716.00" y1="280.0" x2="716.00" y2="290.5" stroke="#089981" stroke-width="0.9"/>
<rect x="715.00" y="284.0" width="2.0" height="5.0" fill="#089981"/>
<line x1="717.60" y1="279.0" x2="717.60" y2="287.9" stroke="#089981" stroke-width="0.9"/>
<rect x="716.60" y="281.0" width="2.0" height="6.4" fill="#089981"/>
<line x1="719.20" y1="268.0" x2="719.20" y2="287.0" stroke="#089981" stroke-width="0.9"/>
<rect x="718.20" y="281.0" width="2.0" height="5.0" fill="#089981"/>
<line x1="720.80" y1="281.6" x2="720.80" y2="291.0" stroke="#089981" stroke-width="0.9"/>
<rect x="719.80" y="282.6" width="2.0" height="6.4" fill="#089981"/>
<line x1="722.90" y1="272.5" x2="722.90" y2="285.0" stroke="#f23645" stroke-width="0.9"/>
<rect x="721.90" y="273.0" width="2.0" height="8.0" fill="#f23645"/>
<line x1="724.50" y1="273.1" x2="724.50" y2="281.5" stroke="#f23645" stroke-width="0.9"/>
<rect x="723.50" y="274.6" width="2.0" height="6.4" fill="#f23645"/>
<line x1="726.10" y1="274.5" x2="726.10" y2="282.6" stroke="#f23645" stroke-width="0.9"/>
<rect x="725.10" y="276.0" width="2.0" height="6.6" fill="#f23645"/>
<line x1="727.70" y1="277.9" x2="727.70" y2="287.3" stroke="#f23645" stroke-width="0.9"/>
<rect x="726.70" y="279.4" width="2.0" height="6.4" fill="#f23645"/>
<line x1="729.30" y1="276.0" x2="729.30" y2="299.0" stroke="#f23645" stroke-width="0.9"/>
<rect x="728.30" y="284.0" width="2.0" height="14.6" fill="#f23645"/>
<line x1="731.90" y1="303.0" x2="731.90" y2="310.5" stroke="#089981" stroke-width="0.9"/>
<rect x="730.90" y="306.0" width="2.0" height="4.0" fill="#089981"/>
<line x1="733.30" y1="305.2" x2="733.30" y2="309.0" stroke="#089981" stroke-width="0.9"/>
<rect x="732.30" y="306.7" width="2.0" height="2.3" fill="#089981"/>
<line x1="735.70" y1="304.5" x2="735.70" y2="310.5" stroke="#089981" stroke-width="0.9"/>
<rect x="734.70" y="305.0" width="2.0" height="2.5" fill="#089981"/>
<line x1="738.20" y1="302.5" x2="738.20" y2="310.0" stroke="#089981" stroke-width="0.9"/>
<rect x="737.20" y="303.5" width="2.0" height="2.5" fill="#089981"/>
<line x1="740.60" y1="302.0" x2="740.60" y2="308.5" stroke="#089981" stroke-width="0.9"/>
<rect x="739.60" y="302.0" width="2.0" height="2.5" fill="#089981"/>
<line x1="743.00" y1="286.9" x2="743.00" y2="303.0" stroke="#089981" stroke-width="0.9"/>
<rect x="742.00" y="287.4" width="2.0" height="12.6" fill="#089981"/>
<line x1="744.60" y1="281.0" x2="744.60" y2="293.6" stroke="#089981" stroke-width="0.9"/>
<rect x="743.60" y="284.0" width="2.0" height="6.6" fill="#089981"/>
<line x1="746.20" y1="278.4" x2="746.20" y2="287.9" stroke="#089981" stroke-width="0.9"/>
<rect x="745.20" y="279.4" width="2.0" height="8.0" fill="#089981"/>
<line x1="747.80" y1="278.4" x2="747.80" y2="284.5" stroke="#089981" stroke-width="0.9"/>
<rect x="746.80" y="279.4" width="2.0" height="4.6" fill="#089981"/>
<line x1="749.40" y1="274.5" x2="749.40" y2="281.5" stroke="#089981" stroke-width="0.9"/>
<rect x="748.40" y="276.0" width="2.0" height="5.0" fill="#089981"/>
<line x1="751.00" y1="273.0" x2="751.00" y2="279.4" stroke="#089981" stroke-width="0.9"/>
<rect x="750.00" y="276.0" width="2.0" height="3.4" fill="#089981"/>
<line x1="752.60" y1="276.3" x2="752.60" y2="282.5" stroke="#089981" stroke-width="0.9"/>
<rect x="751.60" y="277.8" width="2.0" height="3.2" fill="#089981"/>
<line x1="754.20" y1="277.3" x2="754.20" y2="285.6" stroke="#f23645" stroke-width="0.9"/>
<rect x="753.20" y="277.8" width="2.0" height="4.8" fill="#f23645"/>
<line x1="755.80" y1="272.0" x2="755.80" y2="286.0" stroke="#f23645" stroke-width="0.9"/>
<rect x="754.80" y="274.6" width="2.0" height="11.2" fill="#f23645"/>
<line x1="757.40" y1="278.9" x2="757.40" y2="295.0" stroke="#f23645" stroke-width="0.9"/>
<rect x="756.40" y="279.4" width="2.0" height="12.6" fill="#f23645"/>
<line x1="759.00" y1="281.1" x2="759.00" y2="292.6" stroke="#f23645" stroke-width="0.9"/>
<rect x="758.00" y="282.6" width="2.0" height="8.0" fill="#f23645"/>
<line x1="760.60" y1="282.5" x2="760.60" y2="288.4" stroke="#f23645" stroke-width="0.9"/>
<rect x="759.60" y="284.0" width="2.0" height="3.4" fill="#f23645"/>
<line x1="762.20" y1="282.5" x2="762.20" y2="291.1" stroke="#f23645" stroke-width="0.9"/>
<rect x="761.20" y="284.0" width="2.0" height="6.6" fill="#f23645"/>
<line x1="763.80" y1="270.4" x2="763.80" y2="291.6" stroke="#089981" stroke-width="0.9"/>
<rect x="762.80" y="271.4" width="2.0" height="19.2" fill="#089981"/>
<line x1="765.40" y1="253.7" x2="765.40" y2="268.0" stroke="#089981" stroke-width="0.9"/>
<rect x="764.40" y="253.7" width="2.0" height="11.3" fill="#089981"/>
<line x1="767.00" y1="247.9" x2="767.00" y2="260.0" stroke="#089981" stroke-width="0.9"/>
<rect x="766.00" y="248.9" width="2.0" height="11.1" fill="#089981"/>
<line x1="769.00" y1="235.0" x2="769.00" y2="251.0" stroke="#089981" stroke-width="0.9"/>
<rect x="768.00" y="236.0" width="2.0" height="13.0" fill="#089981"/>
<line x1="770.60" y1="223.3" x2="770.60" y2="240.8" stroke="#089981" stroke-width="0.9"/>
<rect x="769.60" y="224.8" width="2.0" height="14.5" fill="#089981"/>
<line x1="772.40" y1="212.6" x2="772.40" y2="230.0" stroke="#089981" stroke-width="0.9"/>
<rect x="771.40" y="215.6" width="2.0" height="14.4" fill="#089981"/>
<line x1="774.50" y1="208.5" x2="774.50" y2="220.0" stroke="#089981" stroke-width="0.9"/>
<rect x="773.50" y="210.0" width="2.0" height="9.0" fill="#089981"/>
<line x1="776.20" y1="199.4" x2="776.20" y2="217.6" stroke="#089981" stroke-width="0.9"/>
<rect x="775.20" y="201.4" width="2.0" height="14.2" fill="#089981"/>
<line x1="778.00" y1="200.0" x2="778.00" y2="214.0" stroke="#089981" stroke-width="0.9"/>
<rect x="777.00" y="201.0" width="2.0" height="11.0" fill="#089981"/>
<line x1="779.80" y1="205.0" x2="779.80" y2="217.4" stroke="#f23645" stroke-width="0.9"/>
<rect x="778.80" y="205.0" width="2.0" height="12.4" fill="#f23645"/>
<line x1="781.60" y1="199.6" x2="781.60" y2="213.0" stroke="#f23645" stroke-width="0.9"/>
<rect x="780.60" y="201.4" width="2.0" height="10.6" fill="#f23645"/>
<line x1="783.40" y1="206.7" x2="783.40" y2="215.6" stroke="#f23645" stroke-width="0.9"/>
<rect x="782.40" y="206.7" width="2.0" height="8.9" fill="#f23645"/>
<line x1="785.20" y1="211.0" x2="785.20" y2="220.0" stroke="#f23645" stroke-width="0.9"/>
<rect x="784.20" y="212.0" width="2.0" height="7.0" fill="#f23645"/>
<line x1="786.90" y1="215.6" x2="786.90" y2="226.8" stroke="#f23645" stroke-width="0.9"/>
<rect x="785.90" y="215.6" width="2.0" height="7.2" fill="#f23645"/>
<line x1="788.70" y1="222.3" x2="788.70" y2="231.0" stroke="#f23645" stroke-width="0.9"/>
<rect x="787.70" y="222.8" width="2.0" height="7.2" fill="#f23645"/>
<line x1="790.50" y1="222.3" x2="790.50" y2="234.0" stroke="#f23645" stroke-width="0.9"/>
<rect x="789.50" y="226.3" width="2.0" height="7.2" fill="#f23645"/>
<line x1="792.30" y1="226.0" x2="792.30" y2="238.5" stroke="#f23645" stroke-width="0.9"/>
<rect x="791.30" y="230.0" width="2.0" height="7.0" fill="#f23645"/>
<line x1="794.10" y1="229.5" x2="794.10" y2="243.6" stroke="#f23645" stroke-width="0.9"/>
<rect x="793.10" y="233.5" width="2.0" height="7.1" fill="#f23645"/>
<line x1="795.80" y1="234.8" x2="795.80" y2="247.0" stroke="#f23645" stroke-width="0.9"/>
<rect x="794.80" y="238.8" width="2.0" height="7.2" fill="#f23645"/>
<line x1="797.60" y1="239.1" x2="797.60" y2="248.2" stroke="#f23645" stroke-width="0.9"/>
<rect x="796.60" y="240.6" width="2.0" height="7.1" fill="#f23645"/>
<line x1="799.40" y1="242.0" x2="799.40" y2="251.5" stroke="#f23645" stroke-width="0.9"/>
<rect x="798.40" y="244.0" width="2.0" height="5.5" fill="#f23645"/>
<line x1="801.20" y1="245.0" x2="801.20" y2="255.0" stroke="#f23645" stroke-width="0.9"/>
<rect x="800.20" y="246.0" width="2.0" height="4.0" fill="#f23645"/>
<line x1="803.00" y1="239.4" x2="803.00" y2="252.3" stroke="#089981" stroke-width="0.9"/>
<rect x="802.00" y="242.4" width="2.0" height="8.9" fill="#089981"/>
<line x1="804.80" y1="240.6" x2="804.80" y2="248.7" stroke="#089981" stroke-width="0.9"/>
<rect x="803.80" y="240.6" width="2.0" height="7.1" fill="#089981"/>
<line x1="806.50" y1="239.0" x2="806.50" y2="250.0" stroke="#f23645" stroke-width="0.9"/>
<rect x="805.50" y="239.0" width="2.0" height="7.0" fill="#f23645"/>
<line x1="808.30" y1="232.3" x2="808.30" y2="244.7" stroke="#089981" stroke-width="0.9"/>
<rect x="807.30" y="235.3" width="2.0" height="8.9" fill="#089981"/>
<line x1="810.10" y1="235.5" x2="810.10" y2="244.2" stroke="#089981" stroke-width="0.9"/>
<rect x="809.10" y="237.0" width="2.0" height="7.2" fill="#089981"/>
<line x1="811.90" y1="237.8" x2="811.90" y2="244.2" stroke="#089981" stroke-width="0.9"/>
<rect x="810.90" y="238.8" width="2.0" height="5.4" fill="#089981"/>
<line x1="813.70" y1="228.7" x2="813.70" y2="244.2" stroke="#089981" stroke-width="0.9"/>
<rect x="812.70" y="231.7" width="2.0" height="12.5" fill="#089981"/>
<line x1="815.50" y1="224.0" x2="815.50" y2="239.8" stroke="#089981" stroke-width="0.9"/>
<rect x="814.50" y="228.0" width="2.0" height="10.8" fill="#089981"/>
<line x1="817.20" y1="222.8" x2="817.20" y2="233.7" stroke="#f23645" stroke-width="0.9"/>
<rect x="816.20" y="222.8" width="2.0" height="8.9" fill="#f23645"/>
<line x1="819.00" y1="217.0" x2="819.00" y2="234.0" stroke="#089981" stroke-width="0.9"/>
<rect x="818.00" y="221.0" width="2.0" height="12.5" fill="#089981"/>
<line x1="820.80" y1="224.6" x2="820.80" y2="232.7" stroke="#089981" stroke-width="0.9"/>
<rect x="819.80" y="224.6" width="2.0" height="7.1" fill="#089981"/>
<line x1="822.60" y1="222.3" x2="822.60" y2="233.5" stroke="#089981" stroke-width="0.9"/>
<rect x="821.60" y="226.3" width="2.0" height="7.2" fill="#089981"/>
<line x1="824.40" y1="221.3" x2="824.40" y2="233.5" stroke="#089981" stroke-width="0.9"/>
<rect x="823.40" y="222.8" width="2.0" height="10.7" fill="#089981"/>
<line x1="826.10" y1="212.9" x2="826.10" y2="230.0" stroke="#089981" stroke-width="0.9"/>
<rect x="825.10" y="213.9" width="2.0" height="14.1" fill="#089981"/>
<line x1="827.90" y1="210.5" x2="827.90" y2="225.6" stroke="#089981" stroke-width="0.9"/>
<rect x="826.90" y="212.0" width="2.0" height="12.6" fill="#089981"/>
<line x1="830.20" y1="203.0" x2="830.20" y2="215.0" stroke="#f23645" stroke-width="0.9"/>
<rect x="829.20" y="205.0" width="2.0" height="9.0" fill="#f23645"/>
<line x1="832.00" y1="212.0" x2="832.00" y2="223.0" stroke="#f23645" stroke-width="0.9"/>
<rect x="831.00" y="212.0" width="2.0" height="9.0" fill="#f23645"/>
<line x1="833.80" y1="216.0" x2="833.80" y2="228.5" stroke="#f23645" stroke-width="0.9"/>
<rect x="832.80" y="219.0" width="2.0" height="9.0" fill="#f23645"/>
<line x1="835.60" y1="226.3" x2="835.60" y2="237.5" stroke="#f23645" stroke-width="0.9"/>
<rect x="834.60" y="226.3" width="2.0" height="10.7" fill="#f23645"/>
<line x1="837.40" y1="232.5" x2="837.40" y2="238.8" stroke="#f23645" stroke-width="0.9"/>
<rect x="836.40" y="233.5" width="2.0" height="5.3" fill="#f23645"/>
<line x1="839.20" y1="233.0" x2="839.20" y2="239.3" stroke="#089981" stroke-width="0.9"/>
<rect x="838.20" y="233.5" width="2.0" height="5.3" fill="#089981"/>
<line x1="840.90" y1="230.7" x2="840.90" y2="243.6" stroke="#089981" stroke-width="0.9"/>
<rect x="839.90" y="231.7" width="2.0" height="8.9" fill="#089981"/>
<line x1="842.80" y1="227.0" x2="842.80" y2="241.0" stroke="#f23645" stroke-width="0.9"/>
<rect x="841.80" y="238.0" width="2.0" height="2.8" fill="#f23645"/>
<line x1="845.40" y1="229.8" x2="845.40" y2="242.0" stroke="#f23645" stroke-width="0.9"/>
<rect x="844.40" y="239.0" width="2.0" height="2.3" fill="#f23645"/>
<line x1="848.00" y1="232.0" x2="848.00" y2="243.0" stroke="#f23645" stroke-width="0.9"/>
<rect x="847.00" y="240.2" width="2.0" height="2.3" fill="#f23645"/>
<line x1="850.30" y1="234.4" x2="850.30" y2="244.5" stroke="#f23645" stroke-width="0.9"/>
<rect x="849.30" y="241.3" width="2.0" height="2.4" fill="#f23645"/>
<line x1="852.70" y1="236.7" x2="852.70" y2="244.5" stroke="#f23645" stroke-width="0.9"/>
<rect x="851.70" y="241.3" width="2.0" height="2.4" fill="#f23645"/>
<line x1="855.00" y1="238.0" x2="855.00" y2="247.7" stroke="#089981" stroke-width="0.9"/>
<rect x="854.00" y="239.0" width="2.0" height="4.7" fill="#089981"/>
<line x1="857.30" y1="237.9" x2="857.30" y2="246.0" stroke="#f23645" stroke-width="0.9"/>
<rect x="856.30" y="240.0" width="2.0" height="4.8" fill="#f23645"/>
<line x1="859.60" y1="235.6" x2="859.60" y2="248.0" stroke="#f23645" stroke-width="0.9"/>
<rect x="858.60" y="241.3" width="2.0" height="5.7" fill="#f23645"/>
<line x1="862.30" y1="247.1" x2="862.30" y2="253.6" stroke="#f23645" stroke-width="0.9"/>
<rect x="861.30" y="247.1" width="2.0" height="3.5" fill="#f23645"/>
<line x1="864.60" y1="237.0" x2="864.60" y2="251.5" stroke="#089981" stroke-width="0.9"/>
<rect x="863.60" y="239.0" width="2.0" height="10.5" fill="#089981"/>
<line x1="10" y1="239.5" x2="1220" y2="239.5" stroke="#70918b" stroke-width="1" stroke-dasharray="1 1"/>
<line x1="879.5" y1="169.6" x2="1033.5" y2="169.6" stroke="#f23645" stroke-width="1.3" />
<line x1="1066.5" y1="169.6" x2="1220" y2="169.6" stroke="#f23645" stroke-width="1.3" />
<text x="1050.5" y="173.6" font-size="11.5" fill="#2a2e39" text-anchor="middle">2018</text>
<line x1="879.5" y1="197" x2="1033.5" y2="197" stroke="#f23645" stroke-width="1.3" />
<line x1="1066.5" y1="197" x2="1220" y2="197" stroke="#f23645" stroke-width="1.3" />
<text x="1050.5" y="201.0" font-size="11.5" fill="#2a2e39" text-anchor="middle">1765</text>
<line x1="879.5" y1="256" x2="1033.5" y2="256" stroke="#4caf50" stroke-width="1.3" />
<line x1="1066.5" y1="256" x2="1220" y2="256" stroke="#4caf50" stroke-width="1.3" />
<text x="1050.5" y="260.0" font-size="11.5" fill="#2a2e39" text-anchor="middle">1330</text>
<line x1="879.5" y1="289.7" x2="1033.5" y2="289.7" stroke="#4caf50" stroke-width="1.3" />
<line x1="1066.5" y1="289.7" x2="1220" y2="289.7" stroke="#4caf50" stroke-width="1.3" />
<text x="1050.5" y="293.7" font-size="11.5" fill="#2a2e39" text-anchor="middle">1132</text>
<line x1="561.7" y1="169.8" x2="998" y2="228.6" stroke="#f23645" stroke-width="1.6" />
<line x1="514" y1="344.3" x2="1006.8" y2="271" stroke="#f23645" stroke-width="1.6" />
<rect x="1224" y="21.5" width="38" height="12" fill="#fff"/>
<text x="1228" y="31.5" font-size="11.5" fill="#2a2e39">40,000</text>
<rect x="1224" y="64.0" width="38" height="12" fill="#fff"/>
<text x="1228" y="74.0" font-size="11.5" fill="#2a2e39">32,500</text>
<rect x="1224" y="107.0" width="38" height="12" fill="#fff"/>
<text x="1228" y="117.0" font-size="11.5" fill="#2a2e39">26,500</text>
<rect x="1224" y="141.5" width="38" height="12" fill="#fff"/>
<text x="1228" y="151.5" font-size="11.5" fill="#2a2e39">22,500</text>
<rect x="1224" y="181.0" width="38" height="12" fill="#fff"/>
<text x="1228" y="191.0" font-size="11.5" fill="#2a2e39">18,500</text>
<rect x="1224" y="218.0" width="38" height="12" fill="#fff"/>
<text x="1228" y="228.0" font-size="11.5" fill="#2a2e39">15,500</text>
<rect x="1224" y="247.0" width="38" height="12" fill="#fff"/>
<text x="1228" y="257.0" font-size="11.5" fill="#2a2e39">13,500</text>
<rect x="1224" y="280.5" width="38" height="12" fill="#fff"/>
<text x="1228" y="290.5" font-size="11.5" fill="#2a2e39">11,500</text>
<rect x="1224" y="311.5" width="38" height="12" fill="#fff"/>
<text x="1228" y="321.5" font-size="11.5" fill="#2a2e39">9,900</text>
<rect x="1224" y="339.8" width="38" height="12" fill="#fff"/>
<text x="1228" y="349.8" font-size="11.5" fill="#2a2e39">8,650</text>
<rect x="1224" y="370.3" width="38" height="12" fill="#fff"/>
<text x="1228" y="380.3" font-size="11.5" fill="#2a2e39">7,450</text>
<rect x="1224" y="400.0" width="38" height="12" fill="#fff"/>
<text x="1228" y="410.0" font-size="11.5" fill="#2a2e39">6,450</text>
<rect x="1224" y="410.0" width="38" height="12" fill="#fff"/>
<text x="1228" y="420.0" font-size="11.5" fill="#2a2e39">2,000</text>
<rect x="1224" y="456.8" width="38" height="12" fill="#fff"/>
<text x="1228" y="466.8" font-size="11.5" fill="#2a2e39">0</text>
<rect x="1224" y="501.0" width="38" height="12" fill="#fff"/>
<text x="1228" y="511.0" font-size="11.5" fill="#2a2e39">2,000-</text>
<rect x="1220.5" y="162.8" width="47.5" height="14.2" fill="#f23645"/>
<text x="1228.3" y="173.9" font-size="11.5" fill="#ffffff">20,189</text>
<rect x="1220.5" y="190.4" width="47.5" height="14.7" fill="#f23645"/>
<text x="1228.3" y="201.8" font-size="11.5" fill="#ffffff">17,650</text>
<rect x="1220.5" y="232.4" width="47.5" height="14.0" fill="#089981"/>
<text x="1228.3" y="243.4" font-size="11.5" fill="#ffffff">14,470</text>
<rect x="1220.5" y="249" width="47.5" height="14.8" fill="#4caf50"/>
<text x="1228.3" y="260.4" font-size="11.5" fill="#ffffff">13,309</text>
<rect x="1220.5" y="282.5" width="47.5" height="14.7" fill="#4caf50"/>
<text x="1228.3" y="293.9" font-size="11.5" fill="#ffffff">11,326</text>
<text x="310.5" y="541" font-size="11.5" font-weight="bold" letter-spacing="0.3" fill="#2a2e39" text-anchor="middle">1399</text>
<text x="426.5" y="541" font-size="11.5" font-weight="bold" letter-spacing="0.3" fill="#2a2e39" text-anchor="middle">1400</text>
<text x="546" y="541" font-size="11.5" font-weight="bold" letter-spacing="0.3" fill="#2a2e39" text-anchor="middle">1401</text>
<text x="664.4" y="541" font-size="11.5" font-weight="bold" letter-spacing="0.3" fill="#2a2e39" text-anchor="middle">1402</text>
<text x="782.5" y="541" font-size="11.5" font-weight="bold" letter-spacing="0.3" fill="#2a2e39" text-anchor="middle">1403</text>
<text x="895.8" y="541" font-size="11.5" font-weight="bold" letter-spacing="0.3" fill="#2a2e39" text-anchor="middle">1404</text>
<text x="1013.6" y="541" font-size="11.5" font-weight="bold" letter-spacing="0.3" fill="#2a2e39" text-anchor="middle">1405</text>
<text x="1131.8" y="541" font-size="11.5" font-weight="bold" letter-spacing="0.3" fill="#2a2e39" text-anchor="middle">1406</text>
<rect x="333.25" y="458.2" width="1.5" height="4.4" fill="#26a69a"/>
<rect x="335.25" y="457.8" width="1.5" height="4.8" fill="#26a69a"/>
<rect x="337.25" y="457.2" width="1.5" height="5.4" fill="#26a69a"/>
<rect x="340.25" y="456.5" width="1.5" height="6.1" fill="#26a69a"/>
<rect x="341.25" y="456.6" width="1.5" height="6.0" fill="#b2dfdb"/>
<rect x="344.25" y="456.8" width="1.5" height="5.8" fill="#b2dfdb"/>
<rect x="346.25" y="457.7" width="1.5" height="4.9" fill="#b2dfdb"/>
<rect x="348.25" y="458.4" width="1.5" height="4.2" fill="#b2dfdb"/>
<rect x="350.25" y="459.1" width="1.5" height="3.5" fill="#b2dfdb"/>
<rect x="353.25" y="461.5" width="1.5" height="1.1" fill="#b2dfdb"/>
<rect x="354.25" y="462.3" width="1.5" height="0.6" fill="#b2dfdb"/>
<rect x="356.25" y="461.8" width="1.5" height="0.8" fill="#26a69a"/>
<rect x="357.25" y="461.4" width="1.5" height="1.2" fill="#26a69a"/>
<rect x="359.25" y="461.0" width="1.5" height="1.6" fill="#26a69a"/>
<rect x="361.25" y="460.5" width="1.5" height="2.1" fill="#26a69a"/>
<rect x="362.25" y="459.5" width="1.5" height="3.1" fill="#26a69a"/>
<rect x="364.25" y="458.1" width="1.5" height="4.5" fill="#26a69a"/>
<rect x="366.25" y="456.9" width="1.5" height="5.7" fill="#26a69a"/>
<rect x="368.25" y="455.0" width="1.5" height="7.6" fill="#26a69a"/>
<rect x="369.25" y="453.0" width="1.5" height="9.6" fill="#26a69a"/>
<rect x="371.25" y="453.5" width="1.5" height="9.1" fill="#b2dfdb"/>
<rect x="373.25" y="454.2" width="1.5" height="8.4" fill="#b2dfdb"/>
<rect x="374.25" y="454.8" width="1.5" height="7.8" fill="#b2dfdb"/>
<rect x="376.25" y="455.6" width="1.5" height="7.0" fill="#b2dfdb"/>
<rect x="377.25" y="456.4" width="1.5" height="6.2" fill="#b2dfdb"/>
<rect x="379.25" y="457.0" width="1.5" height="5.6" fill="#b2dfdb"/>
<rect x="381.25" y="456.0" width="1.5" height="6.6" fill="#26a69a"/>
<rect x="382.25" y="454.9" width="1.5" height="7.7" fill="#26a69a"/>
<rect x="384.25" y="454.2" width="1.5" height="8.4" fill="#26a69a"/>
<rect x="385.25" y="454.6" width="1.5" height="8.0" fill="#b2dfdb"/>
<rect x="387.25" y="455.4" width="1.5" height="7.2" fill="#b2dfdb"/>
<rect x="389.25" y="457.4" width="1.5" height="5.2" fill="#b2dfdb"/>
<rect x="390.25" y="458.7" width="1.5" height="3.9" fill="#b2dfdb"/>
<rect x="392.25" y="460.8" width="1.5" height="1.8" fill="#b2dfdb"/>
<rect x="394.25" y="461.8" width="1.5" height="0.8" fill="#b2dfdb"/>
<rect x="396.25" y="462.6" width="1.5" height="1.1" fill="#ff5252"/>
<rect x="398.25" y="462.6" width="1.5" height="3.0" fill="#ff5252"/>
<rect x="399.25" y="462.6" width="1.5" height="4.5" fill="#ff5252"/>
<rect x="401.25" y="462.6" width="1.5" height="5.6" fill="#ff5252"/>
<rect x="403.25" y="462.6" width="1.5" height="7.1" fill="#ff5252"/>
<rect x="405.25" y="462.6" width="1.5" height="7.3" fill="#ff5252"/>
<rect x="407.25" y="462.6" width="1.5" height="6.7" fill="#ffcdd2"/>
<rect x="409.25" y="462.6" width="1.5" height="6.4" fill="#ffcdd2"/>
<rect x="410.25" y="462.6" width="1.5" height="6.1" fill="#ffcdd2"/>
<rect x="411.25" y="462.6" width="1.5" height="5.8" fill="#ffcdd2"/>
<rect x="413.25" y="462.6" width="1.5" height="5.4" fill="#ffcdd2"/>
<rect x="416.25" y="462.6" width="1.5" height="5.0" fill="#ffcdd2"/>
<rect x="418.25" y="462.6" width="1.5" height="4.5" fill="#ffcdd2"/>
<rect x="419.25" y="462.6" width="1.5" height="4.0" fill="#ffcdd2"/>
<rect x="421.25" y="462.6" width="1.5" height="3.4" fill="#ffcdd2"/>
<rect x="423.25" y="462.6" width="1.5" height="2.9" fill="#ffcdd2"/>
<rect x="425.25" y="462.6" width="1.5" height="2.4" fill="#ffcdd2"/>
<rect x="427.25" y="462.6" width="1.5" height="1.9" fill="#ffcdd2"/>
<rect x="428.25" y="462.6" width="1.5" height="1.4" fill="#ffcdd2"/>
<rect x="430.25" y="462.6" width="1.5" height="0.8" fill="#ffcdd2"/>
<rect x="433.25" y="462.6" width="1.5" height="0.6" fill="#ffcdd2"/>
<rect x="434.25" y="462.6" width="1.5" height="0.6" fill="#ffcdd2"/>
<rect x="437.25" y="462.6" width="1.5" height="0.6" fill="#ffcdd2"/>
<rect x="439.25" y="462.6" width="1.5" height="0.6" fill="#ffcdd2"/>
<rect x="441.25" y="462.6" width="1.5" height="0.6" fill="#ffcdd2"/>
<rect x="443.25" y="462.0" width="1.5" height="0.6" fill="#26a69a"/>
<rect x="445.25" y="461.6" width="1.5" height="1.0" fill="#26a69a"/>
<rect x="448.25" y="460.9" width="1.5" height="1.7" fill="#26a69a"/>
<rect x="450.25" y="460.5" width="1.5" height="2.1" fill="#26a69a"/>
<rect x="453.25" y="459.8" width="1.5" height="2.8" fill="#26a69a"/>
<rect x="454.25" y="459.1" width="1.5" height="3.5" fill="#26a69a"/>
<rect x="457.25" y="456.7" width="1.5" height="5.9" fill="#26a69a"/>
<rect x="458.25" y="455.0" width="1.5" height="7.6" fill="#26a69a"/>
<rect x="460.25" y="454.0" width="1.5" height="8.6" fill="#26a69a"/>
<rect x="462.25" y="453.0" width="1.5" height="9.6" fill="#26a69a"/>
<rect x="464.25" y="452.3" width="1.5" height="10.3" fill="#26a69a"/>
<rect x="466.25" y="452.6" width="1.5" height="10.0" fill="#b2dfdb"/>
<rect x="468.25" y="452.5" width="1.5" height="10.1" fill="#26a69a"/>
<rect x="470.25" y="452.5" width="1.5" height="10.1" fill="#26a69a"/>
<rect x="471.25" y="453.0" width="1.5" height="9.6" fill="#b2dfdb"/>
<rect x="473.25" y="454.2" width="1.5" height="8.4" fill="#b2dfdb"/>
<rect x="475.25" y="455.2" width="1.5" height="7.4" fill="#b2dfdb"/>
<rect x="477.25" y="455.3" width="1.5" height="7.3" fill="#b2dfdb"/>
<rect x="479.25" y="456.5" width="1.5" height="6.1" fill="#b2dfdb"/>
<rect x="480.25" y="457.8" width="1.5" height="4.8" fill="#b2dfdb"/>
<rect x="482.25" y="458.5" width="1.5" height="4.1" fill="#b2dfdb"/>
<rect x="484.25" y="459.1" width="1.5" height="3.5" fill="#b2dfdb"/>
<rect x="485.25" y="460.4" width="1.5" height="2.2" fill="#b2dfdb"/>
<rect x="487.25" y="461.6" width="1.5" height="1.0" fill="#b2dfdb"/>
<rect x="489.25" y="462.6" width="1.5" height="0.6" fill="#ff5252"/>
<rect x="490.25" y="462.6" width="1.5" height="1.2" fill="#ff5252"/>
<rect x="492.25" y="462.6" width="1.5" height="1.5" fill="#ff5252"/>
<rect x="493.25" y="462.6" width="1.5" height="1.9" fill="#ff5252"/>
<rect x="495.25" y="462.6" width="1.5" height="2.2" fill="#ff5252"/>
<rect x="497.25" y="462.6" width="1.5" height="2.5" fill="#ff5252"/>
<rect x="498.25" y="462.6" width="1.5" height="2.0" fill="#ffcdd2"/>
<rect x="500.25" y="462.6" width="1.5" height="1.6" fill="#ffcdd2"/>
<rect x="501.25" y="462.6" width="1.5" height="1.2" fill="#ffcdd2"/>
<rect x="503.25" y="462.6" width="1.5" height="0.8" fill="#ffcdd2"/>
<rect x="505.25" y="462.6" width="1.5" height="0.6" fill="#ffcdd2"/>
<rect x="506.25" y="462.6" width="1.5" height="0.6" fill="#ff5252"/>
<rect x="508.25" y="462.6" width="1.5" height="0.6" fill="#ff5252"/>
<rect x="509.25" y="462.6" width="1.5" height="0.6" fill="#ffcdd2"/>
<rect x="511.25" y="462.6" width="1.5" height="0.6" fill="#ffcdd2"/>
<rect x="513.25" y="462.6" width="1.5" height="0.6" fill="#ffcdd2"/>
<rect x="515.25" y="462.6" width="1.5" height="0.6" fill="#ff5252"/>
<rect x="516.25" y="462.6" width="1.5" height="0.7" fill="#ff5252"/>
<rect x="518.25" y="462.6" width="1.5" height="0.9" fill="#ff5252"/>
<rect x="519.25" y="462.6" width="1.5" height="1.1" fill="#ff5252"/>
<rect x="521.25" y="462.6" width="1.5" height="1.4" fill="#ff5252"/>
<rect x="523.25" y="462.6" width="1.5" height="1.8" fill="#ff5252"/>
<rect x="524.25" y="462.6" width="1.5" height="1.2" fill="#ffcdd2"/>
<rect x="526.25" y="462.6" width="1.5" height="0.6" fill="#ffcdd2"/>
<rect x="527.25" y="462.4" width="1.5" height="0.6" fill="#26a69a"/>
<rect x="529.25" y="462.3" width="1.5" height="0.6" fill="#26a69a"/>
<rect x="531.25" y="462.3" width="1.5" height="0.6" fill="#b2dfdb"/>
<rect x="532.25" y="462.1" width="1.5" height="0.6" fill="#26a69a"/>
<rect x="534.25" y="461.8" width="1.5" height="0.8" fill="#26a69a"/>
<rect x="535.25" y="461.6" width="1.5" height="1.0" fill="#26a69a"/>
<rect x="537.25" y="461.4" width="1.5" height="1.2" fill="#26a69a"/>
<rect x="539.25" y="461.1" width="1.5" height="1.5" fill="#26a69a"/>
<rect x="541.25" y="459.8" width="1.5" height="2.8" fill="#26a69a"/>
<rect x="543.25" y="458.6" width="1.5" height="4.0" fill="#26a69a"/>
<rect x="546.25" y="457.3" width="1.5" height="5.3" fill="#26a69a"/>
<rect x="548.25" y="456.1" width="1.5" height="6.5" fill="#26a69a"/>
<rect x="550.25" y="455.0" width="1.5" height="7.6" fill="#26a69a"/>
<rect x="553.25" y="454.6" width="1.5" height="8.0" fill="#26a69a"/>
<rect x="555.25" y="456.1" width="1.5" height="6.5" fill="#b2dfdb"/>
<rect x="557.25" y="457.5" width="1.5" height="5.1" fill="#b2dfdb"/>
<rect x="559.25" y="458.7" width="1.5" height="3.9" fill="#b2dfdb"/>
<rect x="561.25" y="459.4" width="1.5" height="3.2" fill="#b2dfdb"/>
<rect x="563.25" y="460.3" width="1.5" height="2.3" fill="#b2dfdb"/>
<rect x="565.25" y="461.1" width="1.5" height="1.5" fill="#b2dfdb"/>
<rect x="568.25" y="460.2" width="1.5" height="2.4" fill="#26a69a"/>
<rect x="570.25" y="458.3" width="1.5" height="4.3" fill="#26a69a"/>
<rect x="573.25" y="457.6" width="1.5" height="5.0" fill="#26a69a"/>
<rect x="575.25" y="457.2" width="1.5" height="5.4" fill="#26a69a"/>
<rect x="576.25" y="455.4" width="1.5" height="7.2" fill="#26a69a"/>
<rect x="578.25" y="452.3" width="1.5" height="10.3" fill="#26a69a"/>
<rect x="579.25" y="450.2" width="1.5" height="12.4" fill="#26a69a"/>
<rect x="581.25" y="447.8" width="1.5" height="14.8" fill="#26a69a"/>
<rect x="582.25" y="448.5" width="1.5" height="14.1" fill="#b2dfdb"/>
<rect x="584.25" y="449.8" width="1.5" height="12.8" fill="#b2dfdb"/>
<rect x="585.25" y="451.3" width="1.5" height="11.3" fill="#b2dfdb"/>
<rect x="587.25" y="453.5" width="1.5" height="9.1" fill="#b2dfdb"/>
<rect x="589.25" y="455.5" width="1.5" height="7.1" fill="#b2dfdb"/>
<rect x="590.25" y="457.5" width="1.5" height="5.1" fill="#b2dfdb"/>
<rect x="592.25" y="459.4" width="1.5" height="3.2" fill="#b2dfdb"/>
<rect x="594.25" y="461.2" width="1.5" height="1.4" fill="#b2dfdb"/>
<rect x="595.25" y="462.6" width="1.5" height="0.6" fill="#ff5252"/>
<rect x="597.25" y="462.6" width="1.5" height="2.2" fill="#ff5252"/>
<rect x="598.25" y="462.6" width="1.5" height="3.2" fill="#ff5252"/>
<rect x="600.25" y="462.6" width="1.5" height="3.5" fill="#ff5252"/>
<rect x="602.25" y="462.6" width="1.5" height="4.0" fill="#ff5252"/>
<rect x="603.25" y="462.6" width="1.5" height="5.6" fill="#ff5252"/>
<rect x="605.25" y="462.6" width="1.5" height="7.7" fill="#ff5252"/>
<rect x="606.25" y="462.6" width="1.5" height="9.3" fill="#ff5252"/>
<rect x="608.25" y="462.6" width="1.5" height="10.6" fill="#ff5252"/>
<rect x="610.25" y="462.6" width="1.5" height="11.0" fill="#ff5252"/>
<rect x="611.25" y="462.6" width="1.5" height="10.9" fill="#ffcdd2"/>
<rect x="613.25" y="462.6" width="1.5" height="10.8" fill="#ffcdd2"/>
<rect x="615.25" y="462.6" width="1.5" height="10.3" fill="#ffcdd2"/>
<rect x="617.25" y="462.6" width="1.5" height="9.8" fill="#ffcdd2"/>
<rect x="618.25" y="462.6" width="1.5" height="9.3" fill="#ffcdd2"/>
<rect x="620.25" y="462.6" width="1.5" height="8.6" fill="#ffcdd2"/>
<rect x="622.25" y="462.6" width="1.5" height="7.3" fill="#ffcdd2"/>
<rect x="624.25" y="462.6" width="1.5" height="6.4" fill="#ffcdd2"/>
<rect x="626.25" y="462.6" width="1.5" height="5.7" fill="#ffcdd2"/>
<rect x="627.25" y="462.6" width="1.5" height="5.1" fill="#ffcdd2"/>
<rect x="629.25" y="462.6" width="1.5" height="4.7" fill="#ffcdd2"/>
<rect x="631.25" y="462.6" width="1.5" height="4.3" fill="#ffcdd2"/>
<rect x="632.25" y="462.6" width="1.5" height="4.1" fill="#ffcdd2"/>
<rect x="634.25" y="462.6" width="1.5" height="4.3" fill="#ff5252"/>
<rect x="636.25" y="462.6" width="1.5" height="5.2" fill="#ff5252"/>
<rect x="638.25" y="462.6" width="1.5" height="5.6" fill="#ff5252"/>
<rect x="639.25" y="462.6" width="1.5" height="5.5" fill="#ffcdd2"/>
<rect x="641.25" y="462.6" width="1.5" height="5.7" fill="#ff5252"/>
<rect x="643.25" y="462.6" width="1.5" height="5.8" fill="#ff5252"/>
<rect x="644.25" y="462.6" width="1.5" height="4.4" fill="#ffcdd2"/>
<rect x="646.25" y="462.6" width="1.5" height="2.6" fill="#ffcdd2"/>
<rect x="647.25" y="462.6" width="1.5" height="2.0" fill="#ffcdd2"/>
<rect x="649.25" y="462.6" width="1.5" height="0.6" fill="#ffcdd2"/>
<rect x="651.25" y="461.6" width="1.5" height="1.0" fill="#26a69a"/>
<rect x="652.25" y="460.1" width="1.5" height="2.5" fill="#26a69a"/>
<rect x="654.25" y="459.6" width="1.5" height="3.0" fill="#26a69a"/>
<rect x="655.25" y="459.3" width="1.5" height="3.3" fill="#26a69a"/>
<rect x="657.25" y="459.1" width="1.5" height="3.5" fill="#26a69a"/>
<rect x="659.25" y="458.9" width="1.5" height="3.7" fill="#26a69a"/>
<rect x="660.25" y="459.6" width="1.5" height="3.0" fill="#b2dfdb"/>
<rect x="662.25" y="460.4" width="1.5" height="2.2" fill="#b2dfdb"/>
<rect x="664.25" y="461.0" width="1.5" height="1.6" fill="#b2dfdb"/>
<rect x="665.25" y="461.0" width="1.5" height="1.6" fill="#b2dfdb"/>
<rect x="667.25" y="461.5" width="1.5" height="1.1" fill="#b2dfdb"/>
<rect x="668.25" y="462.0" width="1.5" height="0.6" fill="#b2dfdb"/>
<rect x="670.25" y="462.6" width="1.5" height="0.6" fill="#b2dfdb"/>
<rect x="672.25" y="462.6" width="1.5" height="0.6" fill="#ff5252"/>
<rect x="673.25" y="462.6" width="1.5" height="1.0" fill="#ff5252"/>
<rect x="675.25" y="462.6" width="1.5" height="1.5" fill="#ff5252"/>
<rect x="676.25" y="462.6" width="1.5" height="2.0" fill="#ff5252"/>
<rect x="678.25" y="462.6" width="1.5" height="2.6" fill="#ff5252"/>
<rect x="680.25" y="462.6" width="1.5" height="2.0" fill="#ffcdd2"/>
<rect x="681.25" y="462.6" width="1.5" height="1.5" fill="#ffcdd2"/>
<rect x="683.25" y="462.6" width="1.5" height="1.1" fill="#ffcdd2"/>
<rect x="684.25" y="462.6" width="1.5" height="0.7" fill="#ffcdd2"/>
<rect x="686.25" y="462.6" width="1.5" height="0.7" fill="#ffcdd2"/>
<rect x="688.25" y="462.6" width="1.5" height="0.7" fill="#ffcdd2"/>
<rect x="689.25" y="462.6" width="1.5" height="0.7" fill="#ffcdd2"/>
<rect x="691.25" y="462.6" width="1.5" height="0.7" fill="#ffcdd2"/>
<rect x="693.25" y="462.6" width="1.5" height="0.6" fill="#ffcdd2"/>
<rect x="694.25" y="462.6" width="1.5" height="0.6" fill="#ffcdd2"/>
<rect x="696.25" y="462.6" width="1.5" height="0.6" fill="#ffcdd2"/>
<rect x="698.25" y="462.6" width="1.5" height="0.6" fill="#ffcdd2"/>
<rect x="700.25" y="462.6" width="1.5" height="0.6" fill="#ff5252"/>
<rect x="702.25" y="462.6" width="1.5" height="0.6" fill="#ff5252"/>
<rect x="703.25" y="462.6" width="1.5" height="0.6" fill="#ffcdd2"/>
<rect x="705.25" y="462.6" width="1.5" height="0.6" fill="#ffcdd2"/>
<rect x="707.25" y="462.6" width="1.5" height="0.6" fill="#ff5252"/>
<rect x="708.25" y="462.6" width="1.5" height="0.8" fill="#ff5252"/>
<rect x="710.25" y="462.6" width="1.5" height="1.0" fill="#ff5252"/>
<rect x="711.25" y="462.6" width="1.5" height="1.3" fill="#ff5252"/>
<rect x="713.25" y="462.6" width="1.5" height="1.6" fill="#ff5252"/>
<rect x="715.25" y="462.6" width="1.5" height="2.0" fill="#ff5252"/>
<rect x="717.25" y="462.6" width="1.5" height="2.1" fill="#ff5252"/>
<rect x="718.25" y="462.6" width="1.5" height="2.1" fill="#ff5252"/>
<rect x="720.25" y="462.6" width="1.5" height="2.1" fill="#ff5252"/>
<rect x="722.25" y="462.6" width="1.5" height="2.2" fill="#ff5252"/>
<rect x="723.25" y="462.6" width="1.5" height="2.3" fill="#ff5252"/>
<rect x="725.25" y="462.6" width="1.5" height="2.6" fill="#ff5252"/>
<rect x="727.25" y="462.6" width="1.5" height="2.9" fill="#ff5252"/>
<rect x="728.25" y="462.6" width="1.5" height="3.2" fill="#ff5252"/>
<rect x="731.25" y="462.6" width="1.5" height="3.4" fill="#ff5252"/>
<rect x="732.25" y="462.6" width="1.5" height="3.3" fill="#ffcdd2"/>
<rect x="735.25" y="462.6" width="1.5" height="3.2" fill="#ffcdd2"/>
<rect x="737.25" y="462.6" width="1.5" height="2.3" fill="#ffcdd2"/>
<rect x="740.25" y="462.6" width="1.5" height="1.0" fill="#ffcdd2"/>
<rect x="742.25" y="462.6" width="1.5" height="0.6" fill="#ffcdd2"/>
<rect x="744.25" y="461.2" width="1.5" height="1.4" fill="#26a69a"/>
<rect x="745.25" y="459.8" width="1.5" height="2.8" fill="#26a69a"/>
<rect x="747.25" y="459.4" width="1.5" height="3.2" fill="#26a69a"/>
<rect x="748.25" y="459.2" width="1.5" height="3.4" fill="#26a69a"/>
<rect x="750.25" y="459.0" width="1.5" height="3.6" fill="#26a69a"/>
<rect x="752.25" y="458.8" width="1.5" height="3.8" fill="#26a69a"/>
<rect x="753.25" y="459.1" width="1.5" height="3.5" fill="#b2dfdb"/>
<rect x="755.25" y="459.4" width="1.5" height="3.2" fill="#b2dfdb"/>
<rect x="756.25" y="459.8" width="1.5" height="2.8" fill="#b2dfdb"/>
<rect x="758.25" y="460.3" width="1.5" height="2.3" fill="#b2dfdb"/>
<rect x="760.25" y="459.6" width="1.5" height="3.0" fill="#26a69a"/>
<rect x="761.25" y="458.6" width="1.5" height="4.0" fill="#26a69a"/>
<rect x="763.25" y="457.7" width="1.5" height="4.9" fill="#26a69a"/>
<rect x="764.25" y="456.8" width="1.5" height="5.8" fill="#26a69a"/>
<rect x="766.25" y="454.7" width="1.5" height="7.9" fill="#26a69a"/>
<rect x="768.25" y="451.7" width="1.5" height="10.9" fill="#26a69a"/>
<rect x="770.25" y="449.4" width="1.5" height="13.2" fill="#26a69a"/>
<rect x="771.25" y="447.5" width="1.5" height="15.1" fill="#26a69a"/>
<rect x="773.25" y="446.9" width="1.5" height="15.7" fill="#26a69a"/>
<rect x="775.25" y="446.4" width="1.5" height="16.2" fill="#26a69a"/>
<rect x="777.25" y="447.8" width="1.5" height="14.8" fill="#b2dfdb"/>
<rect x="779.25" y="448.8" width="1.5" height="13.8" fill="#b2dfdb"/>
<rect x="781.25" y="449.6" width="1.5" height="13.0" fill="#b2dfdb"/>
<rect x="782.25" y="451.1" width="1.5" height="11.5" fill="#b2dfdb"/>
<rect x="784.25" y="453.8" width="1.5" height="8.8" fill="#b2dfdb"/>
<rect x="786.25" y="455.5" width="1.5" height="7.1" fill="#b2dfdb"/>
<rect x="788.25" y="457.8" width="1.5" height="4.8" fill="#b2dfdb"/>
<rect x="789.25" y="461.2" width="1.5" height="1.4" fill="#b2dfdb"/>
<rect x="791.25" y="462.6" width="1.5" height="1.2" fill="#ff5252"/>
<rect x="793.25" y="462.6" width="1.5" height="3.1" fill="#ff5252"/>
<rect x="795.25" y="462.6" width="1.5" height="4.8" fill="#ff5252"/>
<rect x="797.25" y="462.6" width="1.5" height="6.6" fill="#ff5252"/>
<rect x="798.25" y="462.6" width="1.5" height="7.6" fill="#ff5252"/>
<rect x="800.25" y="462.6" width="1.5" height="7.4" fill="#ffcdd2"/>
<rect x="802.25" y="462.6" width="1.5" height="6.8" fill="#ffcdd2"/>
<rect x="804.25" y="462.6" width="1.5" height="6.4" fill="#ffcdd2"/>
<rect x="805.25" y="462.6" width="1.5" height="6.4" fill="#ffcdd2"/>
<rect x="807.25" y="462.6" width="1.5" height="5.8" fill="#ffcdd2"/>
<rect x="809.25" y="462.6" width="1.5" height="5.2" fill="#ffcdd2"/>
<rect x="811.25" y="462.6" width="1.5" height="4.6" fill="#ffcdd2"/>
<rect x="813.25" y="462.6" width="1.5" height="3.7" fill="#ffcdd2"/>
<rect x="815.25" y="462.6" width="1.5" height="2.7" fill="#ffcdd2"/>
<rect x="816.25" y="462.6" width="1.5" height="1.7" fill="#ffcdd2"/>
<rect x="818.25" y="462.6" width="1.5" height="0.6" fill="#ffcdd2"/>
<rect x="820.25" y="462.4" width="1.5" height="0.6" fill="#26a69a"/>
<rect x="822.25" y="462.2" width="1.5" height="0.6" fill="#26a69a"/>
<rect x="823.25" y="462.1" width="1.5" height="0.6" fill="#26a69a"/>
<rect x="825.25" y="461.9" width="1.5" height="0.7" fill="#26a69a"/>
<rect x="827.25" y="461.4" width="1.5" height="1.2" fill="#26a69a"/>
<rect x="829.25" y="460.6" width="1.5" height="2.0" fill="#26a69a"/>
<rect x="831.25" y="460.8" width="1.5" height="1.8" fill="#b2dfdb"/>
<rect x="833.25" y="461.7" width="1.5" height="0.9" fill="#b2dfdb"/>
<rect x="835.25" y="462.5" width="1.5" height="0.6" fill="#b2dfdb"/>
<rect x="836.25" y="462.6" width="1.5" height="0.7" fill="#ff5252"/>
<rect x="838.25" y="462.6" width="1.5" height="1.1" fill="#ff5252"/>
<rect x="840.25" y="462.6" width="1.5" height="1.3" fill="#ff5252"/>
<rect x="842.25" y="462.6" width="1.5" height="1.6" fill="#ff5252"/>
<rect x="844.25" y="462.6" width="1.5" height="2.4" fill="#ff5252"/>
<rect x="847.25" y="462.6" width="1.5" height="3.1" fill="#ff5252"/>
<rect x="849.25" y="462.6" width="1.5" height="3.4" fill="#ff5252"/>
<rect x="852.25" y="462.6" width="1.5" height="3.5" fill="#ff5252"/>
<rect x="854.25" y="462.6" width="1.5" height="3.6" fill="#ff5252"/>
<rect x="856.25" y="462.6" width="1.5" height="3.3" fill="#ffcdd2"/>
<rect x="859.25" y="462.6" width="1.5" height="3.0" fill="#ffcdd2"/>
<rect x="861.25" y="462.6" width="1.5" height="2.6" fill="#ffcdd2"/>
<polyline points="333.2,513.7 338.5,508.8 344.9,505.2 353.5,502.0 362.0,498.8 370.6,492.4 379.0,484.9 387.7,478.0 393.0,475.2 398.4,476.7 407.0,481.7 415.5,485.3 424.0,488.0 434.8,490.2 445.5,492.4 450.0,492.4 458.6,489.0 467.1,478.4 475.7,468.8 482.1,465.2 490.6,465.6 499.2,468.8 509.9,469.9 520.6,472.0 529.1,473.1 539.8,468.8 550.5,461.3 561.2,456.0 571.9,450.6 582.6,437.8 591.2,430.3 597.6,429.3 600.0,429.3 606.4,433.5 615.0,444.2 623.5,452.8 632.1,459.2 640.6,464.5 647.0,467.8 655.6,465.6 664.2,462.4 672.7,463.0 681.3,464.5 692.0,464.5 702.7,466.0 713.4,469.5 724.0,472.0 734.8,475.2 741.0,477.0 748.6,474.2 757.1,471.0 765.7,467.3 772.1,461.3 778.5,450.6 784.9,443.2 791.3,440.0 797.8,442.1 804.2,447.4 812.7,451.7 821.3,453.9 829.8,452.8 838.4,453.9 847.0,457.0 855.5,460.9 863.0,463.5" fill="none" stroke="#f59331" stroke-width="1.1" stroke-linejoin="round"/>
<polyline points="313.9,514.2 327.8,514.8 334.2,508.4 339.6,502.0 344.9,499.4 351.3,499.4 354.5,501.5 362.0,496.6 367.4,489.0 370.6,482.7 374.9,480.6 380.2,478.4 384.5,472.0 387.7,470.3 392.0,472.5 396.3,476.3 400.5,482.7 404.8,488.0 411.2,489.6 417.6,490.9 424.0,490.9 432.6,490.2 441.2,491.7 447.6,491.3 452.0,489.5 456.4,486.0 463.9,472.0 471.4,463.5 477.8,460.3 484.2,461.3 490.6,466.7 498.1,471.0 505.6,469.9 514.2,471.0 523.8,474.2 531.3,472.0 539.8,467.3 546.3,459.2 552.7,451.7 559.1,452.8 567.6,451.7 576.2,440.0 581.6,423.9 584.8,422.4 591.2,425.0 597.6,431.4 602.0,434.0 604.3,437.8 609.6,448.5 615.0,455.0 621.4,459.2 627.8,461.3 634.2,464.5 638.5,468.8 643.9,472.0 648.1,469.9 653.5,463.5 659.9,460.3 666.3,461.0 672.7,463.5 679.1,466.7 685.6,465.2 694.1,465.2 700.5,466.0 707.0,467.8 715.5,472.0 724.0,474.2 730.5,477.4 736.9,478.9 742.2,477.4 746.4,472.0 752.8,468.8 759.3,467.8 765.7,461.3 771.0,448.5 776.4,437.8 782.8,433.1 788.1,435.7 793.5,443.2 799.9,451.7 806.3,454.9 812.7,456.0 819.1,453.9 825.6,452.8 830.9,450.6 836.3,453.9 842.7,457.0 849.1,461.3 855.5,464.5 863.0,466.0" fill="none" stroke="#2f8fdc" stroke-width="1.1" stroke-linejoin="round"/>
<rect x="11" y="413" width="212" height="20" fill="#fff"/>
<text x="17.5" y="428.3" font-size="11" fill="#2a2e39">MACD (12, 26, close, 9)</text>
<text x="144" y="428.3" font-size="11" fill="#ffd3d9">-112</text>
<text x="170.7" y="428.3" font-size="11" fill="#4b9fe0">-169</text>
<text x="200" y="428.3" font-size="11" fill="#f5a052">-57</text>
<rect x="11" y="12" width="540" height="22" fill="#fff"/>
<text x="17.5" y="27" font-size="11" fill="#2a2e39" textLength="95" lengthAdjust="spacingAndGlyphs" direction="ltr" unicode-bidi="isolate">بگیلان، فرابورس عادی</text>
<text x="120" y="27" font-size="11" fill="#2a2e39" textLength="10" lengthAdjust="spacingAndGlyphs" direction="ltr" unicode-bidi="isolate">باز</text>
<text x="130" y="27" font-size="11" fill="#089981" textLength="33" lengthAdjust="spacingAndGlyphs" direction="ltr" unicode-bidi="isolate">13,710</text>
<text x="170" y="27" font-size="11" fill="#2a2e39" textLength="37" lengthAdjust="spacingAndGlyphs" direction="ltr" unicode-bidi="isolate">بیشترین</text>
<text x="208.4" y="27" font-size="11" fill="#089981" textLength="32.6" lengthAdjust="spacingAndGlyphs" direction="ltr" unicode-bidi="isolate">14,530</text>
<text x="248" y="27" font-size="11" fill="#2a2e39" textLength="33" lengthAdjust="spacingAndGlyphs" direction="ltr" unicode-bidi="isolate">کمترین</text>
<text x="282" y="27" font-size="11" fill="#089981" textLength="31" lengthAdjust="spacingAndGlyphs" direction="ltr" unicode-bidi="isolate">13,710</text>
<text x="321" y="27" font-size="11" fill="#2a2e39" textLength="26.5" lengthAdjust="spacingAndGlyphs" direction="ltr" unicode-bidi="isolate">آخرین</text>
<text x="348.6" y="27" font-size="11" fill="#089981" textLength="32" lengthAdjust="spacingAndGlyphs" direction="ltr" unicode-bidi="isolate">14,470</text>
<text x="389" y="27" font-size="11" fill="#089981" textLength="66.6" lengthAdjust="spacingAndGlyphs" direction="ltr" unicode-bidi="isolate">740 (+5.39%)</text>
<text x="462" y="27" font-size="11" fill="#2a2e39" textLength="23" lengthAdjust="spacingAndGlyphs" direction="ltr" unicode-bidi="isolate">حجم</text>
<text x="486" y="27" font-size="11" fill="#089981" textLength="47" lengthAdjust="spacingAndGlyphs" direction="ltr" unicode-bidi="isolate">218.701K</text>
</svg>
</body></html>
